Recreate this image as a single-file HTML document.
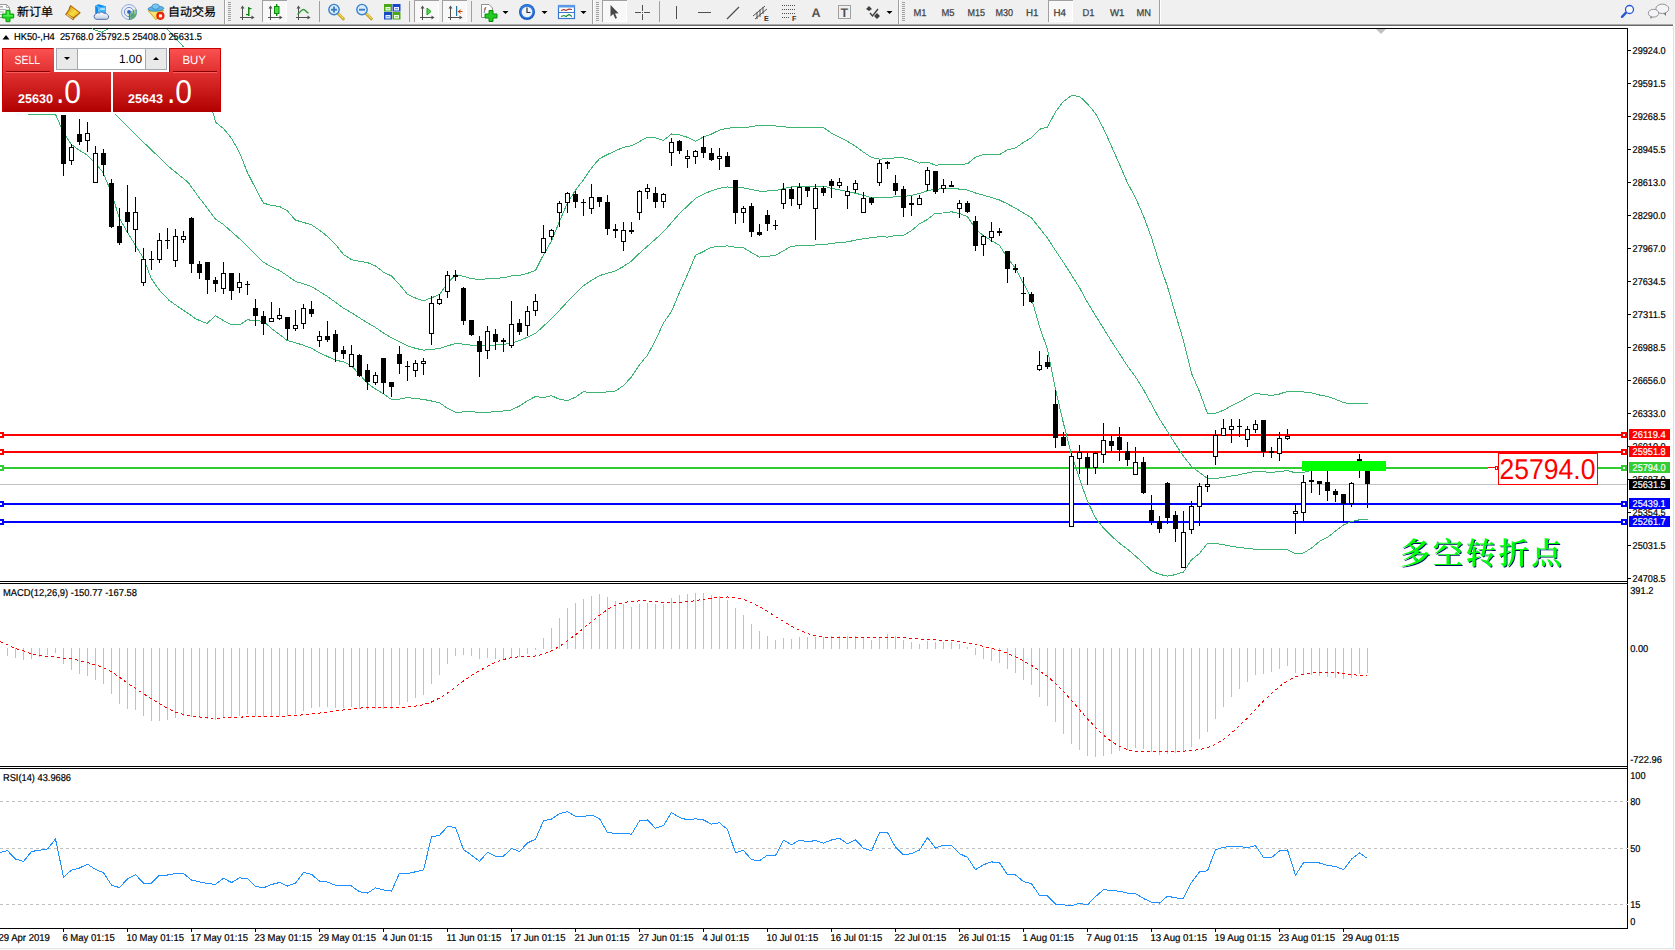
<!DOCTYPE html>
<html><head><meta charset="utf-8"><title>HK50-,H4</title>
<style>
html,body{margin:0;padding:0;background:#fff;overflow:hidden}
body{width:1675px;height:950px;position:relative;font-family:"Liberation Sans","Noto Sans CJK SC",sans-serif}
</style></head><body>
<svg width="1675" height="950" viewBox="0 0 1675 950" style="position:absolute;left:0;top:0;font-family:'Liberation Sans',sans-serif;text-rendering:geometricPrecision">
<defs><filter id="sh" x="-5%" y="-5%" width="110%" height="110%"><feDropShadow dx="1" dy="1" stdDeviation="0" flood-color="#001060" flood-opacity="1"/></filter></defs>
<rect x="0" y="0" width="1675" height="950" fill="#fff"/>
<rect x="0" y="28" width="1628" height="1" fill="#000"/>
<rect x="1627" y="28" width="1" height="901" fill="#000"/>
<rect x="0" y="581" width="1628" height="1" fill="#000"/>
<rect x="0" y="583" width="1628" height="1" fill="#000"/>
<rect x="0" y="766" width="1628" height="1" fill="#000"/>
<rect x="0" y="768" width="1628" height="1" fill="#000"/>
<rect x="0" y="928" width="1628" height="1" fill="#000"/>
<rect x="0" y="484" width="1627" height="1" fill="#c0c0c0"/>
<rect x="0" y="434" width="1627" height="2" fill="#ff0000"/>
<rect x="0" y="451" width="1627" height="2" fill="#ff0000"/>
<rect x="0" y="467" width="1627" height="2" fill="#32cd32"/>
<rect x="0" y="503" width="1627" height="2" fill="#0000ff"/>
<rect x="0" y="521" width="1627" height="2" fill="#0000ff"/>
<polyline points="166.9,28.9 182.7,45.8 213.5,114.3 215.5,122.3 223.5,128.5 231.5,138.4 239.5,152.5 247.5,172.7 255.5,188.2 263.5,203.2 271.5,205.3 279.5,206.5 287.5,211.0 295.5,220.2 303.5,222.4 311.5,224.9 319.5,230.1 327.5,236.5 335.5,244.4 343.5,254.5 351.5,259.6 359.5,261.3 367.5,262.6 375.5,265.9 383.5,272.2 391.5,276.0 399.5,284.6 407.5,294.3 415.5,298.0 423.5,300.9 431.5,297.8 439.5,294.5 447.5,283.5 455.5,274.7 463.5,276.3 471.5,278.6 479.5,279.5 487.5,278.8 495.5,278.3 503.5,277.8 511.5,275.9 519.5,275.3 527.5,273.4 535.5,270.5 543.5,254.7 551.5,241.1 559.5,221.3 567.5,202.9 575.5,190.2 583.5,179.8 591.5,168.0 599.5,158.6 607.5,154.5 615.5,150.8 623.5,147.3 631.5,145.6 639.5,141.6 647.5,137.1 655.5,137.9 663.5,140.5 671.5,133.9 679.5,134.9 687.5,137.3 695.5,141.3 703.5,136.9 711.5,134.0 719.5,130.1 727.5,128.1 735.5,127.8 743.5,127.8 751.5,126.6 759.5,125.3 767.5,125.6 775.5,126.0 783.5,126.5 791.5,127.9 799.5,127.7 807.5,127.8 815.5,127.5 823.5,127.5 831.5,133.2 839.5,137.3 847.5,141.4 855.5,146.3 863.5,152.2 871.5,157.5 879.5,159.2 887.5,158.5 895.5,157.9 903.5,157.9 911.5,159.9 919.5,163.1 927.5,162.1 935.5,165.1 943.5,164.8 951.5,164.7 959.5,164.6 967.5,163.7 975.5,157.1 983.5,154.6 991.5,154.2 999.5,154.7 1007.5,149.8 1015.5,147.9 1023.5,142.4 1031.5,137.7 1039.5,129.3 1047.5,127.1 1055.5,111.8 1063.5,101.4 1071.5,95.6 1079.5,96.3 1087.5,103.9 1095.5,113.5 1103.5,128.5 1111.5,146.4 1119.5,164.2 1127.5,182.9 1135.5,197.8 1143.5,216.0 1151.5,237.7 1159.5,263.7 1167.5,286.7 1175.5,314.2 1183.5,340.6 1191.5,373.2 1199.5,391.7 1207.5,413.7 1215.5,413.2 1223.5,410.3 1231.5,405.7 1239.5,401.8 1247.5,397.3 1255.5,393.3 1263.5,394.6 1271.5,395.4 1279.5,394.0 1287.5,391.4 1295.5,392.0 1303.5,391.9 1311.5,392.9 1319.5,395.0 1327.5,396.4 1335.5,399.3 1343.5,402.6 1351.5,403.9 1359.5,403.9 1367.5,403.9" fill="none" stroke="#3cb371" stroke-width="1" shape-rendering="crispEdges"/>
<polyline points="115.0,114.3 131.0,130.3 169.7,167.4 188.2,182.5 196.7,194.3 215.5,219.1 223.5,224.5 231.5,231.7 239.5,238.7 247.5,246.2 255.5,254.4 263.5,262.3 271.5,266.9 279.5,270.5 287.5,275.8 295.5,281.4 303.5,283.9 311.5,286.6 319.5,291.5 327.5,296.5 335.5,302.3 343.5,308.2 351.5,312.7 359.5,317.9 367.5,322.9 375.5,327.5 383.5,333.0 391.5,337.8 399.5,341.9 407.5,345.9 415.5,348.3 423.5,350.2 431.5,349.4 439.5,348.6 447.5,345.9 455.5,343.5 463.5,344.1 471.5,345.2 479.5,345.9 487.5,345.5 495.5,345.0 503.5,344.4 511.5,342.9 519.5,340.6 527.5,337.1 535.5,333.4 543.5,326.2 551.5,318.4 559.5,310.3 567.5,301.7 575.5,293.7 583.5,285.7 591.5,280.4 599.5,275.6 607.5,273.2 615.5,270.9 623.5,266.4 631.5,261.2 639.5,253.2 647.5,246.1 655.5,239.1 663.5,231.7 671.5,222.7 679.5,213.6 687.5,205.9 695.5,198.4 703.5,194.2 711.5,190.7 719.5,188.3 727.5,187.0 735.5,187.5 743.5,187.8 751.5,189.6 759.5,191.2 767.5,191.0 775.5,190.7 783.5,188.6 791.5,187.0 799.5,186.8 807.5,186.9 815.5,186.2 823.5,186.1 831.5,188.3 839.5,189.8 847.5,191.6 855.5,193.2 863.5,195.4 871.5,197.6 879.5,197.9 887.5,197.8 895.5,196.6 903.5,196.6 911.5,195.3 919.5,193.4 927.5,190.7 935.5,189.1 943.5,188.9 951.5,188.3 959.5,189.1 967.5,190.1 975.5,193.0 983.5,195.2 991.5,197.5 999.5,200.0 1007.5,203.9 1015.5,208.2 1023.5,213.0 1031.5,217.9 1039.5,228.0 1047.5,238.2 1055.5,250.5 1063.5,262.4 1071.5,275.0 1079.5,287.6 1087.5,302.5 1095.5,315.6 1103.5,328.4 1111.5,341.3 1119.5,353.6 1127.5,366.1 1135.5,376.9 1143.5,389.7 1151.5,404.2 1159.5,419.0 1167.5,431.4 1175.5,444.4 1183.5,456.3 1191.5,466.5 1199.5,472.6 1207.5,478.5 1215.5,478.4 1223.5,477.5 1231.5,476.0 1239.5,474.7 1247.5,472.8 1255.5,471.3 1263.5,471.9 1271.5,472.3 1279.5,471.7 1287.5,470.5 1295.5,472.9 1303.5,472.4 1311.5,470.5 1319.5,468.2 1327.5,466.9 1335.5,465.2 1343.5,463.8 1351.5,462.7 1359.5,461.8 1367.5,461.9" fill="none" stroke="#3cb371" stroke-width="1" shape-rendering="crispEdges"/>
<polyline points="27.8,114.3 55.6,114.5 61.0,127.0 65.7,136.2 71.0,144.0 79.0,150.2 87.0,154.8 95.0,162.7 103.0,172.4 111.0,191.8 119.3,217.9 127.0,231.4 135.2,245.0 143.6,258.5 151.2,278.3 158.7,289.3 168.9,300.2 177.3,306.1 187.4,312.9 195.8,318.8 206.8,323.5 215.5,315.8 223.5,320.6 231.5,325.0 239.5,324.9 247.5,319.8 255.5,320.6 263.5,321.4 271.5,328.4 279.5,334.5 287.5,340.7 295.5,342.7 303.5,345.3 311.5,348.3 319.5,352.9 327.5,356.5 335.5,360.2 343.5,361.8 351.5,365.8 359.5,374.5 367.5,383.2 375.5,389.1 383.5,393.8 391.5,399.6 399.5,399.2 407.5,397.6 415.5,398.6 423.5,399.4 431.5,401.0 439.5,402.7 447.5,408.4 455.5,412.4 463.5,411.9 471.5,411.7 479.5,412.4 487.5,412.3 495.5,411.7 503.5,411.0 511.5,409.9 519.5,406.0 527.5,400.8 535.5,396.4 543.5,397.7 551.5,395.6 559.5,399.4 567.5,400.5 575.5,397.2 583.5,391.6 591.5,392.8 599.5,392.5 607.5,391.9 615.5,391.0 623.5,385.5 631.5,376.9 639.5,364.8 647.5,355.1 655.5,340.3 663.5,322.9 671.5,311.4 679.5,292.4 687.5,274.5 695.5,255.4 703.5,251.5 711.5,247.3 719.5,246.5 727.5,245.9 735.5,247.2 743.5,247.8 751.5,252.6 759.5,257.1 767.5,256.3 775.5,255.4 783.5,250.7 791.5,246.1 799.5,245.9 807.5,246.0 815.5,244.9 823.5,244.8 831.5,243.4 839.5,242.4 847.5,241.9 855.5,240.1 863.5,238.7 871.5,237.7 879.5,236.7 887.5,237.1 895.5,235.4 903.5,235.3 911.5,230.6 919.5,223.8 927.5,219.4 935.5,213.1 943.5,213.0 951.5,211.8 959.5,213.5 967.5,216.6 975.5,228.9 983.5,235.8 991.5,240.7 999.5,245.3 1007.5,258.0 1015.5,268.5 1023.5,283.6 1031.5,298.2 1039.5,326.7 1047.5,349.3 1055.5,389.3 1063.5,423.5 1071.5,454.4 1079.5,478.9 1087.5,501.2 1095.5,517.8 1103.5,528.2 1111.5,536.2 1119.5,543.1 1127.5,549.3 1135.5,556.0 1143.5,563.4 1151.5,570.8 1159.5,574.3 1167.5,576.2 1175.5,574.6 1183.5,572.0 1191.5,559.8 1199.5,553.5 1207.5,543.3 1215.5,543.5 1223.5,544.7 1231.5,546.3 1239.5,547.6 1247.5,548.3 1255.5,549.4 1263.5,549.2 1271.5,549.1 1279.5,549.4 1287.5,549.6 1295.5,553.9 1303.5,553.0 1311.5,548.0 1319.5,541.4 1327.5,537.4 1335.5,531.1 1343.5,525.0 1351.5,521.5 1359.5,519.8 1367.5,519.8" fill="none" stroke="#3cb371" stroke-width="1" shape-rendering="crispEdges"/>
<polyline points="91.7,28.6 101.7,32.4 107.4,29.2" fill="none" stroke="#3cb371" stroke-width="1" shape-rendering="crispEdges"/>
<g shape-rendering="crispEdges">
<rect x="63" y="115" width="1" height="61" fill="#000"/>
<rect x="61" y="115" width="5" height="49" fill="#000"/>
<rect x="71" y="144" width="1" height="21" fill="#000"/>
<rect x="69" y="147" width="5" height="14" fill="#000"/>
<rect x="70" y="148" width="3" height="12" fill="#fff"/>
<rect x="79" y="119" width="1" height="26" fill="#000"/>
<rect x="77" y="134" width="5" height="8" fill="#000"/>
<rect x="87" y="122" width="1" height="30" fill="#000"/>
<rect x="85" y="133" width="5" height="8" fill="#000"/>
<rect x="86" y="134" width="3" height="6" fill="#fff"/>
<rect x="95" y="146" width="1" height="37" fill="#000"/>
<rect x="93" y="153" width="5" height="30" fill="#000"/>
<rect x="94" y="154" width="3" height="28" fill="#fff"/>
<rect x="103" y="149" width="1" height="27" fill="#000"/>
<rect x="101" y="153" width="5" height="12" fill="#000"/>
<rect x="111" y="179" width="1" height="49" fill="#000"/>
<rect x="109" y="183" width="5" height="44" fill="#000"/>
<rect x="119" y="208" width="1" height="37" fill="#000"/>
<rect x="117" y="226" width="5" height="17" fill="#000"/>
<rect x="127" y="185" width="1" height="48" fill="#000"/>
<rect x="125" y="212" width="5" height="10" fill="#000"/>
<rect x="135" y="197" width="1" height="55" fill="#000"/>
<rect x="133" y="212" width="5" height="18" fill="#000"/>
<rect x="134" y="213" width="3" height="16" fill="#fff"/>
<rect x="143" y="248" width="1" height="38" fill="#000"/>
<rect x="141" y="259" width="5" height="24" fill="#000"/>
<rect x="142" y="260" width="3" height="22" fill="#fff"/>
<rect x="151" y="251" width="1" height="19" fill="#000"/>
<rect x="149" y="259" width="5" height="1" fill="#000"/>
<rect x="159" y="233" width="1" height="30" fill="#000"/>
<rect x="157" y="240" width="5" height="20" fill="#000"/>
<rect x="158" y="241" width="3" height="18" fill="#fff"/>
<rect x="167" y="228" width="1" height="21" fill="#000"/>
<rect x="165" y="240" width="5" height="1" fill="#000"/>
<rect x="175" y="229" width="1" height="38" fill="#000"/>
<rect x="173" y="236" width="5" height="25" fill="#000"/>
<rect x="174" y="237" width="3" height="23" fill="#fff"/>
<rect x="183" y="231" width="1" height="12" fill="#000"/>
<rect x="181" y="236" width="5" height="4" fill="#000"/>
<rect x="182" y="237" width="3" height="2" fill="#fff"/>
<rect x="191" y="217" width="1" height="56" fill="#000"/>
<rect x="189" y="218" width="5" height="46" fill="#000"/>
<rect x="199" y="261" width="1" height="18" fill="#000"/>
<rect x="197" y="264" width="5" height="9" fill="#000"/>
<rect x="207" y="262" width="1" height="32" fill="#000"/>
<rect x="205" y="262" width="5" height="18" fill="#000"/>
<rect x="215" y="277" width="1" height="15" fill="#000"/>
<rect x="213" y="280" width="5" height="4" fill="#000"/>
<rect x="223" y="262" width="1" height="32" fill="#000"/>
<rect x="221" y="273" width="5" height="16" fill="#000"/>
<rect x="222" y="274" width="3" height="14" fill="#fff"/>
<rect x="231" y="273" width="1" height="27" fill="#000"/>
<rect x="229" y="273" width="5" height="18" fill="#000"/>
<rect x="239" y="273" width="1" height="20" fill="#000"/>
<rect x="237" y="282" width="5" height="6" fill="#000"/>
<rect x="238" y="283" width="3" height="4" fill="#fff"/>
<rect x="247" y="281" width="1" height="14" fill="#000"/>
<rect x="245" y="284" width="5" height="1" fill="#000"/>
<rect x="255" y="299" width="1" height="27" fill="#000"/>
<rect x="253" y="308" width="5" height="8" fill="#000"/>
<rect x="263" y="311" width="1" height="24" fill="#000"/>
<rect x="261" y="316" width="5" height="8" fill="#000"/>
<rect x="271" y="302" width="1" height="20" fill="#000"/>
<rect x="269" y="318" width="5" height="4" fill="#000"/>
<rect x="270" y="319" width="3" height="2" fill="#fff"/>
<rect x="279" y="308" width="1" height="12" fill="#000"/>
<rect x="277" y="315" width="5" height="4" fill="#000"/>
<rect x="278" y="316" width="3" height="2" fill="#fff"/>
<rect x="287" y="317" width="1" height="23" fill="#000"/>
<rect x="285" y="317" width="5" height="12" fill="#000"/>
<rect x="295" y="310" width="1" height="21" fill="#000"/>
<rect x="293" y="325" width="5" height="4" fill="#000"/>
<rect x="294" y="326" width="3" height="2" fill="#fff"/>
<rect x="303" y="304" width="1" height="25" fill="#000"/>
<rect x="301" y="308" width="5" height="16" fill="#000"/>
<rect x="302" y="309" width="3" height="14" fill="#fff"/>
<rect x="311" y="301" width="1" height="16" fill="#000"/>
<rect x="309" y="309" width="5" height="5" fill="#000"/>
<rect x="319" y="331" width="1" height="16" fill="#000"/>
<rect x="317" y="336" width="5" height="5" fill="#000"/>
<rect x="318" y="337" width="3" height="3" fill="#fff"/>
<rect x="327" y="321" width="1" height="21" fill="#000"/>
<rect x="325" y="336" width="5" height="4" fill="#000"/>
<rect x="335" y="330" width="1" height="32" fill="#000"/>
<rect x="333" y="334" width="5" height="18" fill="#000"/>
<rect x="343" y="346" width="1" height="13" fill="#000"/>
<rect x="341" y="350" width="5" height="4" fill="#000"/>
<rect x="351" y="345" width="1" height="22" fill="#000"/>
<rect x="349" y="354" width="5" height="13" fill="#000"/>
<rect x="350" y="355" width="3" height="11" fill="#fff"/>
<rect x="359" y="354" width="1" height="23" fill="#000"/>
<rect x="357" y="355" width="5" height="21" fill="#000"/>
<rect x="367" y="364" width="1" height="26" fill="#000"/>
<rect x="365" y="370" width="5" height="12" fill="#000"/>
<rect x="375" y="372" width="1" height="13" fill="#000"/>
<rect x="373" y="375" width="5" height="8" fill="#000"/>
<rect x="374" y="376" width="3" height="6" fill="#fff"/>
<rect x="383" y="358" width="1" height="36" fill="#000"/>
<rect x="381" y="358" width="5" height="25" fill="#000"/>
<rect x="391" y="382" width="1" height="15" fill="#000"/>
<rect x="389" y="382" width="5" height="5" fill="#000"/>
<rect x="399" y="346" width="1" height="28" fill="#000"/>
<rect x="397" y="354" width="5" height="10" fill="#000"/>
<rect x="407" y="361" width="1" height="20" fill="#000"/>
<rect x="405" y="366" width="5" height="1" fill="#000"/>
<rect x="415" y="360" width="1" height="17" fill="#000"/>
<rect x="413" y="363" width="5" height="8" fill="#000"/>
<rect x="414" y="364" width="3" height="6" fill="#fff"/>
<rect x="423" y="358" width="1" height="17" fill="#000"/>
<rect x="421" y="361" width="5" height="3" fill="#000"/>
<rect x="422" y="362" width="3" height="1" fill="#fff"/>
<rect x="431" y="296" width="1" height="49" fill="#000"/>
<rect x="429" y="303" width="5" height="31" fill="#000"/>
<rect x="430" y="304" width="3" height="29" fill="#fff"/>
<rect x="439" y="294" width="1" height="11" fill="#000"/>
<rect x="437" y="299" width="5" height="5" fill="#000"/>
<rect x="438" y="300" width="3" height="3" fill="#fff"/>
<rect x="447" y="271" width="1" height="27" fill="#000"/>
<rect x="445" y="275" width="5" height="17" fill="#000"/>
<rect x="446" y="276" width="3" height="15" fill="#fff"/>
<rect x="455" y="270" width="1" height="11" fill="#000"/>
<rect x="453" y="275" width="5" height="2" fill="#000"/>
<rect x="463" y="287" width="1" height="38" fill="#000"/>
<rect x="461" y="288" width="5" height="33" fill="#000"/>
<rect x="471" y="320" width="1" height="16" fill="#000"/>
<rect x="469" y="320" width="5" height="15" fill="#000"/>
<rect x="479" y="336" width="1" height="41" fill="#000"/>
<rect x="477" y="341" width="5" height="11" fill="#000"/>
<rect x="487" y="326" width="1" height="33" fill="#000"/>
<rect x="485" y="331" width="5" height="20" fill="#000"/>
<rect x="486" y="332" width="3" height="18" fill="#fff"/>
<rect x="495" y="329" width="1" height="21" fill="#000"/>
<rect x="493" y="334" width="5" height="8" fill="#000"/>
<rect x="503" y="338" width="1" height="14" fill="#000"/>
<rect x="501" y="340" width="5" height="2" fill="#000"/>
<rect x="511" y="301" width="1" height="47" fill="#000"/>
<rect x="509" y="324" width="5" height="22" fill="#000"/>
<rect x="510" y="325" width="3" height="20" fill="#fff"/>
<rect x="519" y="319" width="1" height="16" fill="#000"/>
<rect x="517" y="323" width="5" height="9" fill="#000"/>
<rect x="527" y="306" width="1" height="30" fill="#000"/>
<rect x="525" y="311" width="5" height="15" fill="#000"/>
<rect x="526" y="312" width="3" height="13" fill="#fff"/>
<rect x="535" y="294" width="1" height="22" fill="#000"/>
<rect x="533" y="301" width="5" height="10" fill="#000"/>
<rect x="534" y="302" width="3" height="8" fill="#fff"/>
<rect x="543" y="225" width="1" height="28" fill="#000"/>
<rect x="541" y="238" width="5" height="15" fill="#000"/>
<rect x="542" y="239" width="3" height="13" fill="#fff"/>
<rect x="551" y="229" width="1" height="11" fill="#000"/>
<rect x="549" y="230" width="5" height="7" fill="#000"/>
<rect x="550" y="231" width="3" height="5" fill="#fff"/>
<rect x="559" y="201" width="1" height="26" fill="#000"/>
<rect x="557" y="203" width="5" height="10" fill="#000"/>
<rect x="558" y="204" width="3" height="8" fill="#fff"/>
<rect x="567" y="192" width="1" height="21" fill="#000"/>
<rect x="565" y="193" width="5" height="10" fill="#000"/>
<rect x="566" y="194" width="3" height="8" fill="#fff"/>
<rect x="575" y="191" width="1" height="17" fill="#000"/>
<rect x="573" y="194" width="5" height="8" fill="#000"/>
<rect x="583" y="199" width="1" height="17" fill="#000"/>
<rect x="581" y="202" width="5" height="1" fill="#000"/>
<rect x="591" y="184" width="1" height="30" fill="#000"/>
<rect x="589" y="197" width="5" height="12" fill="#000"/>
<rect x="590" y="198" width="3" height="10" fill="#fff"/>
<rect x="599" y="197" width="1" height="10" fill="#000"/>
<rect x="597" y="197" width="5" height="5" fill="#000"/>
<rect x="607" y="195" width="1" height="40" fill="#000"/>
<rect x="605" y="202" width="5" height="27" fill="#000"/>
<rect x="615" y="224" width="1" height="14" fill="#000"/>
<rect x="613" y="229" width="5" height="2" fill="#000"/>
<rect x="623" y="222" width="1" height="29" fill="#000"/>
<rect x="621" y="230" width="5" height="12" fill="#000"/>
<rect x="622" y="231" width="3" height="10" fill="#fff"/>
<rect x="631" y="222" width="1" height="12" fill="#000"/>
<rect x="629" y="230" width="5" height="2" fill="#000"/>
<rect x="639" y="190" width="1" height="30" fill="#000"/>
<rect x="637" y="191" width="5" height="22" fill="#000"/>
<rect x="638" y="192" width="3" height="20" fill="#fff"/>
<rect x="647" y="184" width="1" height="15" fill="#000"/>
<rect x="645" y="188" width="5" height="4" fill="#000"/>
<rect x="646" y="189" width="3" height="2" fill="#fff"/>
<rect x="655" y="187" width="1" height="21" fill="#000"/>
<rect x="653" y="193" width="5" height="9" fill="#000"/>
<rect x="663" y="193" width="1" height="15" fill="#000"/>
<rect x="661" y="194" width="5" height="8" fill="#000"/>
<rect x="662" y="195" width="3" height="6" fill="#fff"/>
<rect x="671" y="138" width="1" height="28" fill="#000"/>
<rect x="669" y="142" width="5" height="11" fill="#000"/>
<rect x="670" y="143" width="3" height="9" fill="#fff"/>
<rect x="679" y="140" width="1" height="14" fill="#000"/>
<rect x="677" y="141" width="5" height="10" fill="#000"/>
<rect x="687" y="150" width="1" height="18" fill="#000"/>
<rect x="685" y="156" width="5" height="3" fill="#000"/>
<rect x="686" y="157" width="3" height="1" fill="#fff"/>
<rect x="695" y="150" width="1" height="14" fill="#000"/>
<rect x="693" y="151" width="5" height="6" fill="#000"/>
<rect x="694" y="152" width="3" height="4" fill="#fff"/>
<rect x="703" y="136" width="1" height="22" fill="#000"/>
<rect x="701" y="147" width="5" height="6" fill="#000"/>
<rect x="711" y="148" width="1" height="13" fill="#000"/>
<rect x="709" y="153" width="5" height="7" fill="#000"/>
<rect x="719" y="148" width="1" height="22" fill="#000"/>
<rect x="717" y="156" width="5" height="3" fill="#000"/>
<rect x="718" y="157" width="3" height="1" fill="#fff"/>
<rect x="727" y="152" width="1" height="15" fill="#000"/>
<rect x="725" y="156" width="5" height="11" fill="#000"/>
<rect x="735" y="180" width="1" height="44" fill="#000"/>
<rect x="733" y="180" width="5" height="33" fill="#000"/>
<rect x="743" y="206" width="1" height="17" fill="#000"/>
<rect x="741" y="208" width="5" height="5" fill="#000"/>
<rect x="742" y="209" width="3" height="3" fill="#fff"/>
<rect x="751" y="203" width="1" height="34" fill="#000"/>
<rect x="749" y="206" width="5" height="26" fill="#000"/>
<rect x="759" y="224" width="1" height="12" fill="#000"/>
<rect x="757" y="232" width="5" height="3" fill="#000"/>
<rect x="767" y="210" width="1" height="21" fill="#000"/>
<rect x="765" y="215" width="5" height="9" fill="#000"/>
<rect x="775" y="220" width="1" height="10" fill="#000"/>
<rect x="773" y="225" width="5" height="1" fill="#000"/>
<rect x="783" y="183" width="1" height="26" fill="#000"/>
<rect x="781" y="189" width="5" height="15" fill="#000"/>
<rect x="782" y="190" width="3" height="13" fill="#fff"/>
<rect x="791" y="187" width="1" height="19" fill="#000"/>
<rect x="789" y="189" width="5" height="10" fill="#000"/>
<rect x="799" y="183" width="1" height="26" fill="#000"/>
<rect x="797" y="187" width="5" height="18" fill="#000"/>
<rect x="798" y="188" width="3" height="16" fill="#fff"/>
<rect x="807" y="187" width="1" height="10" fill="#000"/>
<rect x="805" y="187" width="5" height="4" fill="#000"/>
<rect x="815" y="184" width="1" height="56" fill="#000"/>
<rect x="813" y="188" width="5" height="21" fill="#000"/>
<rect x="814" y="189" width="3" height="19" fill="#fff"/>
<rect x="823" y="186" width="1" height="10" fill="#000"/>
<rect x="821" y="188" width="5" height="5" fill="#000"/>
<rect x="831" y="179" width="1" height="19" fill="#000"/>
<rect x="829" y="181" width="5" height="5" fill="#000"/>
<rect x="839" y="178" width="1" height="10" fill="#000"/>
<rect x="837" y="182" width="5" height="4" fill="#000"/>
<rect x="838" y="183" width="3" height="2" fill="#fff"/>
<rect x="847" y="186" width="1" height="23" fill="#000"/>
<rect x="845" y="191" width="5" height="5" fill="#000"/>
<rect x="846" y="192" width="3" height="3" fill="#fff"/>
<rect x="855" y="180" width="1" height="13" fill="#000"/>
<rect x="853" y="183" width="5" height="7" fill="#000"/>
<rect x="854" y="184" width="3" height="5" fill="#fff"/>
<rect x="863" y="192" width="1" height="21" fill="#000"/>
<rect x="861" y="198" width="5" height="15" fill="#000"/>
<rect x="862" y="199" width="3" height="13" fill="#fff"/>
<rect x="871" y="197" width="1" height="8" fill="#000"/>
<rect x="869" y="198" width="5" height="5" fill="#000"/>
<rect x="879" y="160" width="1" height="26" fill="#000"/>
<rect x="877" y="163" width="5" height="20" fill="#000"/>
<rect x="878" y="164" width="3" height="18" fill="#fff"/>
<rect x="887" y="161" width="1" height="8" fill="#000"/>
<rect x="885" y="162" width="5" height="2" fill="#000"/>
<rect x="895" y="175" width="1" height="20" fill="#000"/>
<rect x="893" y="183" width="5" height="8" fill="#000"/>
<rect x="903" y="186" width="1" height="31" fill="#000"/>
<rect x="901" y="189" width="5" height="19" fill="#000"/>
<rect x="911" y="196" width="1" height="20" fill="#000"/>
<rect x="909" y="203" width="5" height="2" fill="#000"/>
<rect x="919" y="195" width="1" height="10" fill="#000"/>
<rect x="917" y="198" width="5" height="7" fill="#000"/>
<rect x="918" y="199" width="3" height="5" fill="#fff"/>
<rect x="927" y="167" width="1" height="24" fill="#000"/>
<rect x="925" y="170" width="5" height="15" fill="#000"/>
<rect x="926" y="171" width="3" height="13" fill="#fff"/>
<rect x="935" y="171" width="1" height="23" fill="#000"/>
<rect x="933" y="171" width="5" height="21" fill="#000"/>
<rect x="943" y="179" width="1" height="14" fill="#000"/>
<rect x="941" y="185" width="5" height="4" fill="#000"/>
<rect x="942" y="186" width="3" height="2" fill="#fff"/>
<rect x="951" y="181" width="1" height="6" fill="#000"/>
<rect x="949" y="185" width="5" height="2" fill="#000"/>
<rect x="959" y="200" width="1" height="18" fill="#000"/>
<rect x="957" y="203" width="5" height="6" fill="#000"/>
<rect x="958" y="204" width="3" height="4" fill="#fff"/>
<rect x="967" y="201" width="1" height="12" fill="#000"/>
<rect x="965" y="203" width="5" height="9" fill="#000"/>
<rect x="975" y="216" width="1" height="35" fill="#000"/>
<rect x="973" y="221" width="5" height="25" fill="#000"/>
<rect x="983" y="235" width="1" height="21" fill="#000"/>
<rect x="981" y="236" width="5" height="9" fill="#000"/>
<rect x="982" y="237" width="3" height="7" fill="#fff"/>
<rect x="991" y="222" width="1" height="20" fill="#000"/>
<rect x="989" y="231" width="5" height="7" fill="#000"/>
<rect x="990" y="232" width="3" height="5" fill="#fff"/>
<rect x="999" y="228" width="1" height="8" fill="#000"/>
<rect x="997" y="231" width="5" height="2" fill="#000"/>
<rect x="1007" y="251" width="1" height="32" fill="#000"/>
<rect x="1005" y="251" width="5" height="18" fill="#000"/>
<rect x="1015" y="264" width="1" height="9" fill="#000"/>
<rect x="1013" y="268" width="5" height="2" fill="#000"/>
<rect x="1023" y="277" width="1" height="29" fill="#000"/>
<rect x="1021" y="293" width="5" height="1" fill="#000"/>
<rect x="1031" y="292" width="1" height="11" fill="#000"/>
<rect x="1029" y="294" width="5" height="8" fill="#000"/>
<rect x="1039" y="351" width="1" height="20" fill="#000"/>
<rect x="1037" y="365" width="5" height="5" fill="#000"/>
<rect x="1038" y="366" width="3" height="3" fill="#fff"/>
<rect x="1047" y="355" width="1" height="14" fill="#000"/>
<rect x="1045" y="362" width="5" height="5" fill="#000"/>
<rect x="1055" y="390" width="1" height="58" fill="#000"/>
<rect x="1053" y="404" width="5" height="34" fill="#000"/>
<rect x="1063" y="432" width="1" height="14" fill="#000"/>
<rect x="1061" y="437" width="5" height="9" fill="#000"/>
<rect x="1071" y="453" width="1" height="74" fill="#000"/>
<rect x="1069" y="456" width="5" height="71" fill="#000"/>
<rect x="1070" y="457" width="3" height="69" fill="#fff"/>
<rect x="1079" y="445" width="1" height="29" fill="#000"/>
<rect x="1077" y="452" width="5" height="7" fill="#000"/>
<rect x="1078" y="453" width="3" height="5" fill="#fff"/>
<rect x="1087" y="453" width="1" height="32" fill="#000"/>
<rect x="1085" y="457" width="5" height="11" fill="#000"/>
<rect x="1095" y="452" width="1" height="22" fill="#000"/>
<rect x="1093" y="453" width="5" height="15" fill="#000"/>
<rect x="1094" y="454" width="3" height="13" fill="#fff"/>
<rect x="1103" y="423" width="1" height="40" fill="#000"/>
<rect x="1101" y="440" width="5" height="15" fill="#000"/>
<rect x="1102" y="441" width="3" height="13" fill="#fff"/>
<rect x="1111" y="436" width="1" height="15" fill="#000"/>
<rect x="1109" y="441" width="5" height="5" fill="#000"/>
<rect x="1119" y="427" width="1" height="34" fill="#000"/>
<rect x="1117" y="437" width="5" height="13" fill="#000"/>
<rect x="1127" y="442" width="1" height="24" fill="#000"/>
<rect x="1125" y="451" width="5" height="9" fill="#000"/>
<rect x="1135" y="447" width="1" height="28" fill="#000"/>
<rect x="1133" y="462" width="5" height="13" fill="#000"/>
<rect x="1134" y="463" width="3" height="11" fill="#fff"/>
<rect x="1143" y="457" width="1" height="37" fill="#000"/>
<rect x="1141" y="462" width="5" height="31" fill="#000"/>
<rect x="1151" y="495" width="1" height="30" fill="#000"/>
<rect x="1149" y="510" width="5" height="11" fill="#000"/>
<rect x="1159" y="516" width="1" height="17" fill="#000"/>
<rect x="1157" y="521" width="5" height="8" fill="#000"/>
<rect x="1167" y="482" width="1" height="42" fill="#000"/>
<rect x="1165" y="483" width="5" height="35" fill="#000"/>
<rect x="1175" y="511" width="1" height="31" fill="#000"/>
<rect x="1173" y="515" width="5" height="14" fill="#000"/>
<rect x="1183" y="511" width="1" height="57" fill="#000"/>
<rect x="1181" y="532" width="5" height="36" fill="#000"/>
<rect x="1182" y="533" width="3" height="34" fill="#fff"/>
<rect x="1191" y="501" width="1" height="33" fill="#000"/>
<rect x="1189" y="506" width="5" height="24" fill="#000"/>
<rect x="1190" y="507" width="3" height="22" fill="#fff"/>
<rect x="1199" y="483" width="1" height="43" fill="#000"/>
<rect x="1197" y="486" width="5" height="21" fill="#000"/>
<rect x="1198" y="487" width="3" height="19" fill="#fff"/>
<rect x="1207" y="475" width="1" height="17" fill="#000"/>
<rect x="1205" y="484" width="5" height="3" fill="#000"/>
<rect x="1206" y="485" width="3" height="1" fill="#fff"/>
<rect x="1215" y="430" width="1" height="35" fill="#000"/>
<rect x="1213" y="435" width="5" height="22" fill="#000"/>
<rect x="1214" y="436" width="3" height="20" fill="#fff"/>
<rect x="1223" y="419" width="1" height="17" fill="#000"/>
<rect x="1221" y="428" width="5" height="8" fill="#000"/>
<rect x="1222" y="429" width="3" height="6" fill="#fff"/>
<rect x="1231" y="419" width="1" height="24" fill="#000"/>
<rect x="1229" y="426" width="5" height="4" fill="#000"/>
<rect x="1230" y="427" width="3" height="2" fill="#fff"/>
<rect x="1239" y="419" width="1" height="18" fill="#000"/>
<rect x="1237" y="426" width="5" height="1" fill="#000"/>
<rect x="1247" y="426" width="1" height="21" fill="#000"/>
<rect x="1245" y="429" width="5" height="11" fill="#000"/>
<rect x="1246" y="430" width="3" height="9" fill="#fff"/>
<rect x="1255" y="420" width="1" height="13" fill="#000"/>
<rect x="1253" y="424" width="5" height="6" fill="#000"/>
<rect x="1254" y="425" width="3" height="4" fill="#fff"/>
<rect x="1263" y="420" width="1" height="37" fill="#000"/>
<rect x="1261" y="420" width="5" height="32" fill="#000"/>
<rect x="1271" y="447" width="1" height="11" fill="#000"/>
<rect x="1269" y="451" width="5" height="2" fill="#000"/>
<rect x="1279" y="432" width="1" height="29" fill="#000"/>
<rect x="1277" y="438" width="5" height="16" fill="#000"/>
<rect x="1278" y="439" width="3" height="14" fill="#fff"/>
<rect x="1287" y="429" width="1" height="11" fill="#000"/>
<rect x="1285" y="436" width="5" height="3" fill="#000"/>
<rect x="1286" y="437" width="3" height="1" fill="#fff"/>
<rect x="1295" y="503" width="1" height="31" fill="#000"/>
<rect x="1293" y="511" width="5" height="3" fill="#000"/>
<rect x="1294" y="512" width="3" height="1" fill="#fff"/>
<rect x="1303" y="475" width="1" height="46" fill="#000"/>
<rect x="1301" y="482" width="5" height="31" fill="#000"/>
<rect x="1302" y="483" width="3" height="29" fill="#fff"/>
<rect x="1311" y="466" width="1" height="27" fill="#000"/>
<rect x="1309" y="480" width="5" height="2" fill="#000"/>
<rect x="1319" y="481" width="1" height="14" fill="#000"/>
<rect x="1317" y="481" width="5" height="3" fill="#000"/>
<rect x="1327" y="467" width="1" height="34" fill="#000"/>
<rect x="1325" y="482" width="5" height="9" fill="#000"/>
<rect x="1335" y="489" width="1" height="13" fill="#000"/>
<rect x="1333" y="491" width="5" height="4" fill="#000"/>
<rect x="1343" y="494" width="1" height="29" fill="#000"/>
<rect x="1341" y="494" width="5" height="10" fill="#000"/>
<rect x="1351" y="482" width="1" height="25" fill="#000"/>
<rect x="1349" y="483" width="5" height="21" fill="#000"/>
<rect x="1350" y="484" width="3" height="19" fill="#fff"/>
<rect x="1359" y="454" width="1" height="24" fill="#000"/>
<rect x="1357" y="459" width="5" height="11" fill="#000"/>
<rect x="1367" y="468" width="1" height="40" fill="#000"/>
<rect x="1365" y="470" width="5" height="14" fill="#000"/>
</g>
<rect x="1302" y="461" width="84" height="10" fill="#00ff00"/>
<rect x="-2" y="432" width="6" height="6" fill="#ff0000"/>
<rect x="0" y="434" width="2" height="2" fill="#fff"/>
<rect x="1621" y="432" width="6" height="6" fill="#ff0000"/>
<rect x="1623" y="434" width="2" height="2" fill="#fff"/>
<rect x="-2" y="449" width="6" height="6" fill="#ff0000"/>
<rect x="0" y="451" width="2" height="2" fill="#fff"/>
<rect x="1621" y="449" width="6" height="6" fill="#ff0000"/>
<rect x="1623" y="451" width="2" height="2" fill="#fff"/>
<rect x="-2" y="465" width="6" height="6" fill="#32cd32"/>
<rect x="0" y="467" width="2" height="2" fill="#fff"/>
<rect x="1621" y="465" width="6" height="6" fill="#32cd32"/>
<rect x="1623" y="467" width="2" height="2" fill="#fff"/>
<rect x="-2" y="501" width="6" height="6" fill="#0000ff"/>
<rect x="0" y="503" width="2" height="2" fill="#fff"/>
<rect x="1621" y="501" width="6" height="6" fill="#0000ff"/>
<rect x="1623" y="503" width="2" height="2" fill="#fff"/>
<rect x="-2" y="519" width="6" height="6" fill="#0000ff"/>
<rect x="0" y="521" width="2" height="2" fill="#fff"/>
<rect x="1621" y="519" width="6" height="6" fill="#0000ff"/>
<rect x="1623" y="521" width="2" height="2" fill="#fff"/>
<rect x="1628" y="50" width="3" height="1" fill="#000"/>
<text x="1632.6" y="54" font-size="10.0" fill="#000" textLength="33.0" lengthAdjust="spacingAndGlyphs" text-anchor="start" stroke="#000" stroke-width="0.2">29924.0</text>
<rect x="1628" y="83" width="3" height="1" fill="#000"/>
<text x="1632.6" y="87" font-size="10.0" fill="#000" textLength="33.0" lengthAdjust="spacingAndGlyphs" text-anchor="start" stroke="#000" stroke-width="0.2">29591.5</text>
<rect x="1628" y="116" width="3" height="1" fill="#000"/>
<text x="1632.6" y="120" font-size="10.0" fill="#000" textLength="33.0" lengthAdjust="spacingAndGlyphs" text-anchor="start" stroke="#000" stroke-width="0.2">29268.5</text>
<rect x="1628" y="149" width="3" height="1" fill="#000"/>
<text x="1632.6" y="153" font-size="10.0" fill="#000" textLength="33.0" lengthAdjust="spacingAndGlyphs" text-anchor="start" stroke="#000" stroke-width="0.2">28945.5</text>
<rect x="1628" y="182" width="3" height="1" fill="#000"/>
<text x="1632.6" y="186" font-size="10.0" fill="#000" textLength="33.0" lengthAdjust="spacingAndGlyphs" text-anchor="start" stroke="#000" stroke-width="0.2">28613.0</text>
<rect x="1628" y="215" width="3" height="1" fill="#000"/>
<text x="1632.6" y="219" font-size="10.0" fill="#000" textLength="33.0" lengthAdjust="spacingAndGlyphs" text-anchor="start" stroke="#000" stroke-width="0.2">28290.0</text>
<rect x="1628" y="248" width="3" height="1" fill="#000"/>
<text x="1632.6" y="252" font-size="10.0" fill="#000" textLength="33.0" lengthAdjust="spacingAndGlyphs" text-anchor="start" stroke="#000" stroke-width="0.2">27967.0</text>
<rect x="1628" y="281" width="3" height="1" fill="#000"/>
<text x="1632.6" y="285" font-size="10.0" fill="#000" textLength="33.0" lengthAdjust="spacingAndGlyphs" text-anchor="start" stroke="#000" stroke-width="0.2">27634.5</text>
<rect x="1628" y="314" width="3" height="1" fill="#000"/>
<text x="1632.6" y="318" font-size="10.0" fill="#000" textLength="33.0" lengthAdjust="spacingAndGlyphs" text-anchor="start" stroke="#000" stroke-width="0.2">27311.5</text>
<rect x="1628" y="347" width="3" height="1" fill="#000"/>
<text x="1632.6" y="351" font-size="10.0" fill="#000" textLength="33.0" lengthAdjust="spacingAndGlyphs" text-anchor="start" stroke="#000" stroke-width="0.2">26988.5</text>
<rect x="1628" y="380" width="3" height="1" fill="#000"/>
<text x="1632.6" y="384" font-size="10.0" fill="#000" textLength="33.0" lengthAdjust="spacingAndGlyphs" text-anchor="start" stroke="#000" stroke-width="0.2">26656.0</text>
<rect x="1628" y="413" width="3" height="1" fill="#000"/>
<text x="1632.6" y="417" font-size="10.0" fill="#000" textLength="33.0" lengthAdjust="spacingAndGlyphs" text-anchor="start" stroke="#000" stroke-width="0.2">26333.0</text>
<rect x="1628" y="446" width="3" height="1" fill="#000"/>
<text x="1632.6" y="450" font-size="10.0" fill="#000" textLength="33.0" lengthAdjust="spacingAndGlyphs" text-anchor="start" stroke="#000" stroke-width="0.2">26010.0</text>
<rect x="1628" y="479" width="3" height="1" fill="#000"/>
<text x="1632.6" y="483" font-size="10.0" fill="#000" textLength="33.0" lengthAdjust="spacingAndGlyphs" text-anchor="start" stroke="#000" stroke-width="0.2">25687.0</text>
<rect x="1628" y="512" width="3" height="1" fill="#000"/>
<text x="1632.6" y="516" font-size="10.0" fill="#000" textLength="33.0" lengthAdjust="spacingAndGlyphs" text-anchor="start" stroke="#000" stroke-width="0.2">25354.5</text>
<rect x="1628" y="545" width="3" height="1" fill="#000"/>
<text x="1632.6" y="549" font-size="10.0" fill="#000" textLength="33.0" lengthAdjust="spacingAndGlyphs" text-anchor="start" stroke="#000" stroke-width="0.2">25031.5</text>
<rect x="1628" y="578" width="3" height="1" fill="#000"/>
<text x="1632.6" y="582" font-size="10.0" fill="#000" textLength="33.0" lengthAdjust="spacingAndGlyphs" text-anchor="start" stroke="#000" stroke-width="0.2">24708.5</text>
<rect x="1629" y="479" width="41" height="11" fill="#000"/>
<text x="1632.6" y="488" font-size="10.0" fill="#fff" textLength="33.0" lengthAdjust="spacingAndGlyphs" text-anchor="start" stroke="#fff" stroke-width="0.2">25631.5</text>
<rect x="1629" y="429" width="41" height="11" fill="#ff0000"/>
<text x="1632.6" y="438" font-size="10.0" fill="#fff" textLength="33.0" lengthAdjust="spacingAndGlyphs" text-anchor="start" stroke="#fff" stroke-width="0.2">26119.4</text>
<rect x="1629" y="446" width="41" height="11" fill="#ff0000"/>
<text x="1632.6" y="455" font-size="10.0" fill="#fff" textLength="33.0" lengthAdjust="spacingAndGlyphs" text-anchor="start" stroke="#fff" stroke-width="0.2">25951.8</text>
<rect x="1629" y="462" width="41" height="11" fill="#32cd32"/>
<text x="1632.6" y="471" font-size="10.0" fill="#fff" textLength="33.0" lengthAdjust="spacingAndGlyphs" text-anchor="start" stroke="#fff" stroke-width="0.2">25794.0</text>
<rect x="1629" y="498" width="41" height="11" fill="#0000ff"/>
<text x="1632.6" y="507" font-size="10.0" fill="#fff" textLength="33.0" lengthAdjust="spacingAndGlyphs" text-anchor="start" stroke="#fff" stroke-width="0.2">25439.1</text>
<rect x="1629" y="516" width="41" height="11" fill="#0000ff"/>
<text x="1632.6" y="525" font-size="10.0" fill="#fff" textLength="33.0" lengthAdjust="spacingAndGlyphs" text-anchor="start" stroke="#fff" stroke-width="0.2">25261.7</text>
<rect x="1488" y="467" width="10" height="2" fill="#fff"/>
<rect x="1488" y="467" width="7" height="1" fill="#ff0000"/>
<rect x="1495.5" y="466.5" width="2" height="3" fill="#fff" stroke="#f00"/>
<rect x="1498.5" y="453.5" width="99" height="31" fill="#fff" stroke="#f00"/>
<text x="1499.5" y="479" font-size="28.6" fill="#ff0000" textLength="96.0" lengthAdjust="spacingAndGlyphs" text-anchor="start">25794.0</text>
<text x="1400" y="563.5" font-size="30.5" letter-spacing="2.3" font-weight="600" fill="#00ff00" style="font-family:'Liberation Serif','Noto Serif CJK SC',serif;paint-order:stroke" stroke="none" filter="url(#sh)">多空转折点</text>
<path d="M2.5 39.5 L6 35 L9.5 39.5Z" fill="#000"/>
<text x="14" y="40" font-size="10.0" fill="#000" textLength="188.0" lengthAdjust="spacingAndGlyphs" text-anchor="start" stroke="#000" stroke-width="0.2">HK50-,H4&#160;&#160;25768.0 25792.5 25408.0 25631.5</text>
<path d="M1376 29 L1386 29 L1381 34Z" fill="#c0c0c0"/>
<text x="3" y="596" font-size="10.0" fill="#000" textLength="134.0" lengthAdjust="spacingAndGlyphs" text-anchor="start" stroke="#000" stroke-width="0.2">MACD(12,26,9) -150.77 -167.58</text>
<g shape-rendering="crispEdges">
<rect x="7" y="648" width="1" height="8" fill="#c0c0c0"/>
<rect x="15" y="648" width="1" height="10" fill="#c0c0c0"/>
<rect x="23" y="648" width="1" height="12" fill="#c0c0c0"/>
<rect x="31" y="648" width="1" height="11" fill="#c0c0c0"/>
<rect x="39" y="648" width="1" height="9" fill="#c0c0c0"/>
<rect x="47" y="648" width="1" height="7" fill="#c0c0c0"/>
<rect x="55" y="648" width="1" height="5" fill="#c0c0c0"/>
<rect x="63" y="648" width="1" height="16" fill="#c0c0c0"/>
<rect x="71" y="648" width="1" height="22" fill="#c0c0c0"/>
<rect x="79" y="648" width="1" height="26" fill="#c0c0c0"/>
<rect x="87" y="648" width="1" height="28" fill="#c0c0c0"/>
<rect x="95" y="648" width="1" height="32" fill="#c0c0c0"/>
<rect x="103" y="648" width="1" height="36" fill="#c0c0c0"/>
<rect x="111" y="648" width="1" height="46" fill="#c0c0c0"/>
<rect x="119" y="648" width="1" height="56" fill="#c0c0c0"/>
<rect x="127" y="648" width="1" height="61" fill="#c0c0c0"/>
<rect x="135" y="648" width="1" height="62" fill="#c0c0c0"/>
<rect x="143" y="648" width="1" height="68" fill="#c0c0c0"/>
<rect x="151" y="648" width="1" height="73" fill="#c0c0c0"/>
<rect x="159" y="648" width="1" height="73" fill="#c0c0c0"/>
<rect x="167" y="648" width="1" height="72" fill="#c0c0c0"/>
<rect x="175" y="648" width="1" height="70" fill="#c0c0c0"/>
<rect x="183" y="648" width="1" height="68" fill="#c0c0c0"/>
<rect x="191" y="648" width="1" height="69" fill="#c0c0c0"/>
<rect x="199" y="648" width="1" height="70" fill="#c0c0c0"/>
<rect x="207" y="648" width="1" height="71" fill="#c0c0c0"/>
<rect x="215" y="648" width="1" height="72" fill="#c0c0c0"/>
<rect x="223" y="648" width="1" height="70" fill="#c0c0c0"/>
<rect x="231" y="648" width="1" height="70" fill="#c0c0c0"/>
<rect x="239" y="648" width="1" height="68" fill="#c0c0c0"/>
<rect x="247" y="648" width="1" height="66" fill="#c0c0c0"/>
<rect x="255" y="648" width="1" height="68" fill="#c0c0c0"/>
<rect x="263" y="648" width="1" height="69" fill="#c0c0c0"/>
<rect x="271" y="648" width="1" height="69" fill="#c0c0c0"/>
<rect x="279" y="648" width="1" height="68" fill="#c0c0c0"/>
<rect x="287" y="648" width="1" height="68" fill="#c0c0c0"/>
<rect x="295" y="648" width="1" height="66" fill="#c0c0c0"/>
<rect x="303" y="648" width="1" height="63" fill="#c0c0c0"/>
<rect x="311" y="648" width="1" height="60" fill="#c0c0c0"/>
<rect x="319" y="648" width="1" height="59" fill="#c0c0c0"/>
<rect x="327" y="648" width="1" height="59" fill="#c0c0c0"/>
<rect x="335" y="648" width="1" height="60" fill="#c0c0c0"/>
<rect x="343" y="648" width="1" height="60" fill="#c0c0c0"/>
<rect x="351" y="648" width="1" height="59" fill="#c0c0c0"/>
<rect x="359" y="648" width="1" height="61" fill="#c0c0c0"/>
<rect x="367" y="648" width="1" height="62" fill="#c0c0c0"/>
<rect x="375" y="648" width="1" height="61" fill="#c0c0c0"/>
<rect x="383" y="648" width="1" height="61" fill="#c0c0c0"/>
<rect x="391" y="648" width="1" height="61" fill="#c0c0c0"/>
<rect x="399" y="648" width="1" height="57" fill="#c0c0c0"/>
<rect x="407" y="648" width="1" height="54" fill="#c0c0c0"/>
<rect x="415" y="648" width="1" height="50" fill="#c0c0c0"/>
<rect x="423" y="648" width="1" height="47" fill="#c0c0c0"/>
<rect x="431" y="648" width="1" height="36" fill="#c0c0c0"/>
<rect x="439" y="648" width="1" height="27" fill="#c0c0c0"/>
<rect x="447" y="648" width="1" height="16" fill="#c0c0c0"/>
<rect x="455" y="648" width="1" height="8" fill="#c0c0c0"/>
<rect x="463" y="648" width="1" height="7" fill="#c0c0c0"/>
<rect x="471" y="648" width="1" height="8" fill="#c0c0c0"/>
<rect x="479" y="648" width="1" height="11" fill="#c0c0c0"/>
<rect x="487" y="648" width="1" height="10" fill="#c0c0c0"/>
<rect x="495" y="648" width="1" height="11" fill="#c0c0c0"/>
<rect x="503" y="648" width="1" height="11" fill="#c0c0c0"/>
<rect x="511" y="648" width="1" height="9" fill="#c0c0c0"/>
<rect x="519" y="648" width="1" height="9" fill="#c0c0c0"/>
<rect x="527" y="648" width="1" height="6" fill="#c0c0c0"/>
<rect x="535" y="648" width="1" height="2" fill="#c0c0c0"/>
<rect x="543" y="638" width="1" height="11" fill="#c0c0c0"/>
<rect x="551" y="628" width="1" height="21" fill="#c0c0c0"/>
<rect x="559" y="618" width="1" height="31" fill="#c0c0c0"/>
<rect x="567" y="608" width="1" height="41" fill="#c0c0c0"/>
<rect x="575" y="603" width="1" height="46" fill="#c0c0c0"/>
<rect x="583" y="599" width="1" height="50" fill="#c0c0c0"/>
<rect x="591" y="596" width="1" height="53" fill="#c0c0c0"/>
<rect x="599" y="594" width="1" height="55" fill="#c0c0c0"/>
<rect x="607" y="597" width="1" height="52" fill="#c0c0c0"/>
<rect x="615" y="601" width="1" height="48" fill="#c0c0c0"/>
<rect x="623" y="604" width="1" height="45" fill="#c0c0c0"/>
<rect x="631" y="607" width="1" height="42" fill="#c0c0c0"/>
<rect x="639" y="604" width="1" height="45" fill="#c0c0c0"/>
<rect x="647" y="603" width="1" height="46" fill="#c0c0c0"/>
<rect x="655" y="604" width="1" height="45" fill="#c0c0c0"/>
<rect x="663" y="604" width="1" height="45" fill="#c0c0c0"/>
<rect x="671" y="598" width="1" height="51" fill="#c0c0c0"/>
<rect x="679" y="595" width="1" height="54" fill="#c0c0c0"/>
<rect x="687" y="594" width="1" height="55" fill="#c0c0c0"/>
<rect x="695" y="593" width="1" height="56" fill="#c0c0c0"/>
<rect x="703" y="593" width="1" height="56" fill="#c0c0c0"/>
<rect x="711" y="595" width="1" height="54" fill="#c0c0c0"/>
<rect x="719" y="596" width="1" height="53" fill="#c0c0c0"/>
<rect x="727" y="600" width="1" height="49" fill="#c0c0c0"/>
<rect x="735" y="608" width="1" height="41" fill="#c0c0c0"/>
<rect x="743" y="615" width="1" height="34" fill="#c0c0c0"/>
<rect x="751" y="624" width="1" height="25" fill="#c0c0c0"/>
<rect x="759" y="631" width="1" height="18" fill="#c0c0c0"/>
<rect x="767" y="636" width="1" height="13" fill="#c0c0c0"/>
<rect x="775" y="640" width="1" height="9" fill="#c0c0c0"/>
<rect x="783" y="638" width="1" height="11" fill="#c0c0c0"/>
<rect x="791" y="639" width="1" height="10" fill="#c0c0c0"/>
<rect x="799" y="637" width="1" height="12" fill="#c0c0c0"/>
<rect x="807" y="637" width="1" height="12" fill="#c0c0c0"/>
<rect x="815" y="637" width="1" height="12" fill="#c0c0c0"/>
<rect x="823" y="637" width="1" height="12" fill="#c0c0c0"/>
<rect x="831" y="636" width="1" height="13" fill="#c0c0c0"/>
<rect x="839" y="636" width="1" height="13" fill="#c0c0c0"/>
<rect x="847" y="636" width="1" height="13" fill="#c0c0c0"/>
<rect x="855" y="636" width="1" height="13" fill="#c0c0c0"/>
<rect x="863" y="638" width="1" height="11" fill="#c0c0c0"/>
<rect x="871" y="640" width="1" height="9" fill="#c0c0c0"/>
<rect x="879" y="637" width="1" height="12" fill="#c0c0c0"/>
<rect x="887" y="634" width="1" height="15" fill="#c0c0c0"/>
<rect x="895" y="636" width="1" height="13" fill="#c0c0c0"/>
<rect x="903" y="640" width="1" height="9" fill="#c0c0c0"/>
<rect x="911" y="642" width="1" height="7" fill="#c0c0c0"/>
<rect x="919" y="644" width="1" height="5" fill="#c0c0c0"/>
<rect x="927" y="641" width="1" height="8" fill="#c0c0c0"/>
<rect x="935" y="642" width="1" height="7" fill="#c0c0c0"/>
<rect x="943" y="642" width="1" height="7" fill="#c0c0c0"/>
<rect x="951" y="642" width="1" height="7" fill="#c0c0c0"/>
<rect x="959" y="644" width="1" height="5" fill="#c0c0c0"/>
<rect x="967" y="647" width="1" height="2" fill="#c0c0c0"/>
<rect x="975" y="648" width="1" height="7" fill="#c0c0c0"/>
<rect x="983" y="648" width="1" height="11" fill="#c0c0c0"/>
<rect x="991" y="648" width="1" height="13" fill="#c0c0c0"/>
<rect x="999" y="648" width="1" height="15" fill="#c0c0c0"/>
<rect x="1007" y="648" width="1" height="21" fill="#c0c0c0"/>
<rect x="1015" y="648" width="1" height="25" fill="#c0c0c0"/>
<rect x="1023" y="648" width="1" height="32" fill="#c0c0c0"/>
<rect x="1031" y="648" width="1" height="37" fill="#c0c0c0"/>
<rect x="1039" y="648" width="1" height="49" fill="#c0c0c0"/>
<rect x="1047" y="648" width="1" height="58" fill="#c0c0c0"/>
<rect x="1055" y="648" width="1" height="74" fill="#c0c0c0"/>
<rect x="1063" y="648" width="1" height="86" fill="#c0c0c0"/>
<rect x="1071" y="648" width="1" height="96" fill="#c0c0c0"/>
<rect x="1079" y="648" width="1" height="102" fill="#c0c0c0"/>
<rect x="1087" y="648" width="1" height="108" fill="#c0c0c0"/>
<rect x="1095" y="648" width="1" height="109" fill="#c0c0c0"/>
<rect x="1103" y="648" width="1" height="108" fill="#c0c0c0"/>
<rect x="1111" y="648" width="1" height="106" fill="#c0c0c0"/>
<rect x="1119" y="648" width="1" height="103" fill="#c0c0c0"/>
<rect x="1127" y="648" width="1" height="102" fill="#c0c0c0"/>
<rect x="1135" y="648" width="1" height="100" fill="#c0c0c0"/>
<rect x="1143" y="648" width="1" height="101" fill="#c0c0c0"/>
<rect x="1151" y="648" width="1" height="104" fill="#c0c0c0"/>
<rect x="1159" y="648" width="1" height="107" fill="#c0c0c0"/>
<rect x="1167" y="648" width="1" height="106" fill="#c0c0c0"/>
<rect x="1175" y="648" width="1" height="105" fill="#c0c0c0"/>
<rect x="1183" y="648" width="1" height="104" fill="#c0c0c0"/>
<rect x="1191" y="648" width="1" height="99" fill="#c0c0c0"/>
<rect x="1199" y="648" width="1" height="91" fill="#c0c0c0"/>
<rect x="1207" y="648" width="1" height="84" fill="#c0c0c0"/>
<rect x="1215" y="648" width="1" height="71" fill="#c0c0c0"/>
<rect x="1223" y="648" width="1" height="59" fill="#c0c0c0"/>
<rect x="1231" y="648" width="1" height="49" fill="#c0c0c0"/>
<rect x="1239" y="648" width="1" height="41" fill="#c0c0c0"/>
<rect x="1247" y="648" width="1" height="34" fill="#c0c0c0"/>
<rect x="1255" y="648" width="1" height="27" fill="#c0c0c0"/>
<rect x="1263" y="648" width="1" height="26" fill="#c0c0c0"/>
<rect x="1271" y="648" width="1" height="24" fill="#c0c0c0"/>
<rect x="1279" y="648" width="1" height="21" fill="#c0c0c0"/>
<rect x="1287" y="648" width="1" height="18" fill="#c0c0c0"/>
<rect x="1295" y="648" width="1" height="25" fill="#c0c0c0"/>
<rect x="1303" y="648" width="1" height="26" fill="#c0c0c0"/>
<rect x="1311" y="648" width="1" height="27" fill="#c0c0c0"/>
<rect x="1319" y="648" width="1" height="28" fill="#c0c0c0"/>
<rect x="1327" y="648" width="1" height="29" fill="#c0c0c0"/>
<rect x="1335" y="648" width="1" height="30" fill="#c0c0c0"/>
<rect x="1343" y="648" width="1" height="31" fill="#c0c0c0"/>
<rect x="1351" y="648" width="1" height="30" fill="#c0c0c0"/>
<rect x="1359" y="648" width="1" height="26" fill="#c0c0c0"/>
<rect x="1367" y="648" width="1" height="25" fill="#c0c0c0"/>
</g>
<polyline points="0,641.5 7.5,644.7 15.5,648.6 23.5,650.8 31.5,654.2 39.5,655.4 47.5,656.5 55.5,656.9 63.5,658.2 71.5,658.6 79.5,660.7 87.5,662.7 95.5,664.9 103.5,667.7 111.5,671.8 119.5,677.2 127.5,683.4 135.5,688.5 143.5,693.7 151.5,698.8 159.5,703.8 167.5,708.2 175.5,712.1 183.5,714.5 191.5,715.9 199.5,717.0 207.5,718.0 215.5,718.3 223.5,718.0 231.5,717.6 239.5,717.2 247.5,716.7 255.5,716.7 263.5,716.8 271.5,716.7 279.5,716.4 287.5,715.9 295.5,715.6 303.5,714.8 311.5,713.8 319.5,713.1 327.5,712.1 335.5,711.0 343.5,709.9 351.5,708.9 359.5,708.1 367.5,707.6 375.5,707.5 383.5,707.7 391.5,707.9 399.5,707.7 407.5,707.1 415.5,706.1 423.5,704.7 431.5,702.0 439.5,698.0 447.5,693.0 455.5,687.1 463.5,681.0 471.5,675.5 479.5,670.7 487.5,666.2 495.5,662.2 503.5,659.5 511.5,657.6 519.5,656.8 527.5,656.5 535.5,656.0 543.5,654.1 551.5,650.8 559.5,646.4 567.5,640.9 575.5,634.7 583.5,628.3 591.5,621.6 599.5,615.2 607.5,609.5 615.5,605.3 623.5,602.6 631.5,601.4 639.5,600.9 647.5,600.9 655.5,601.4 663.5,602.4 671.5,602.8 679.5,602.5 687.5,601.8 695.5,600.6 703.5,599.2 711.5,598.1 719.5,597.5 727.5,597.0 735.5,597.5 743.5,599.4 751.5,602.6 759.5,606.7 767.5,611.5 775.5,616.6 783.5,621.4 791.5,626.1 799.5,630.3 807.5,633.5 815.5,635.9 823.5,637.3 831.5,637.9 839.5,637.9 847.5,637.5 855.5,637.3 863.5,637.2 871.5,637.5 879.5,637.5 887.5,637.2 895.5,637.1 903.5,637.5 911.5,638.2 919.5,639.0 927.5,639.5 935.5,640.0 943.5,640.2 951.5,640.7 959.5,641.8 967.5,643.1 975.5,644.6 983.5,646.4 991.5,648.2 999.5,650.5 1007.5,653.4 1015.5,656.8 1023.5,660.9 1031.5,665.3 1039.5,670.8 1047.5,676.5 1055.5,683.5 1063.5,691.6 1071.5,700.6 1079.5,709.6 1087.5,718.8 1095.5,727.4 1103.5,735.2 1111.5,741.5 1119.5,746.5 1127.5,749.7 1135.5,751.2 1143.5,751.8 1151.5,752.0 1159.5,751.9 1167.5,751.5 1175.5,751.3 1183.5,751.1 1191.5,750.7 1199.5,749.5 1207.5,747.7 1215.5,744.4 1223.5,739.4 1231.5,733.0 1239.5,725.8 1247.5,717.8 1255.5,709.2 1263.5,701.1 1271.5,693.6 1279.5,686.6 1287.5,680.7 1295.5,676.8 1303.5,674.3 1311.5,672.8 1319.5,672.1 1327.5,672.3 1335.5,672.7 1343.5,673.5 1351.5,674.5 1359.5,675.4 1367.5,675.5" fill="none" stroke="#ff0000" stroke-width="1" stroke-dasharray="3 3" shape-rendering="crispEdges"/>
<text x="1630.2" y="594" font-size="10.0" fill="#000" textLength="23.2" lengthAdjust="spacingAndGlyphs" text-anchor="start" stroke="#000" stroke-width="0.2">391.2</text>
<text x="1630.2" y="652" font-size="10.0" fill="#000" textLength="18.1" lengthAdjust="spacingAndGlyphs" text-anchor="start" stroke="#000" stroke-width="0.2">0.00</text>
<text x="1630.2" y="763" font-size="10.0" fill="#000" textLength="31.7" lengthAdjust="spacingAndGlyphs" text-anchor="start" stroke="#000" stroke-width="0.2">-722.96</text>
<text x="3" y="781" font-size="10.0" fill="#000" textLength="68.0" lengthAdjust="spacingAndGlyphs" text-anchor="start" stroke="#000" stroke-width="0.2">RSI(14) 43.9686</text>
<line x1="0" y1="801.5" x2="1627" y2="801.5" stroke="#c0c0c0" stroke-width="1" stroke-dasharray="3 3" shape-rendering="crispEdges"/>
<rect x="1627" y="801" width="1" height="1" fill="#d8d8d8"/>
<text x="1630.2" y="805" font-size="10.0" fill="#000" textLength="10.2" lengthAdjust="spacingAndGlyphs" text-anchor="start" stroke="#000" stroke-width="0.2">80</text>
<line x1="0" y1="848.5" x2="1627" y2="848.5" stroke="#c0c0c0" stroke-width="1" stroke-dasharray="3 3" shape-rendering="crispEdges"/>
<rect x="1627" y="848" width="1" height="1" fill="#d8d8d8"/>
<text x="1630.2" y="852" font-size="10.0" fill="#000" textLength="10.2" lengthAdjust="spacingAndGlyphs" text-anchor="start" stroke="#000" stroke-width="0.2">50</text>
<line x1="0" y1="904.5" x2="1627" y2="904.5" stroke="#c0c0c0" stroke-width="1" stroke-dasharray="3 3" shape-rendering="crispEdges"/>
<rect x="1627" y="904" width="1" height="1" fill="#d8d8d8"/>
<text x="1630.2" y="908" font-size="10.0" fill="#000" textLength="10.2" lengthAdjust="spacingAndGlyphs" text-anchor="start" stroke="#000" stroke-width="0.2">15</text>
<text x="1630.2" y="779" font-size="10.0" fill="#000" textLength="15.3" lengthAdjust="spacingAndGlyphs" text-anchor="start" stroke="#000" stroke-width="0.2">100</text>
<text x="1630.2" y="925" font-size="10.0" fill="#000" textLength="5.1" lengthAdjust="spacingAndGlyphs" text-anchor="start" stroke="#000" stroke-width="0.2">0</text>
<polyline points="0,852.5 7.5,850.7 15.5,859.0 23.5,861.5 31.5,851.5 39.5,850.2 47.5,849.0 55.5,839.0 63.5,877.1 71.5,870.1 79.5,868.0 87.5,864.2 95.5,869.5 103.5,872.6 111.5,885.1 119.5,887.6 127.5,878.8 135.5,874.6 143.5,883.2 151.5,883.2 159.5,875.0 167.5,875.0 175.5,873.5 183.5,873.5 191.5,880.0 199.5,881.9 207.5,883.6 215.5,884.3 223.5,878.3 231.5,882.6 239.5,877.9 247.5,878.4 255.5,886.2 263.5,887.9 271.5,884.5 279.5,882.5 287.5,886.0 295.5,883.1 303.5,872.4 311.5,874.3 319.5,881.1 327.5,882.1 335.5,885.3 343.5,885.9 351.5,886.0 359.5,891.8 367.5,893.1 375.5,887.9 383.5,889.9 391.5,891.1 399.5,873.1 407.5,873.6 415.5,871.8 423.5,870.0 431.5,836.9 439.5,835.3 447.5,826.5 455.5,827.4 463.5,849.6 471.5,855.2 479.5,861.3 487.5,852.3 495.5,856.2 503.5,856.2 511.5,848.3 519.5,851.5 527.5,843.0 535.5,839.1 543.5,820.7 551.5,819.1 559.5,813.6 567.5,811.7 575.5,816.4 583.5,816.4 591.5,815.1 599.5,818.5 607.5,832.5 615.5,833.5 623.5,833.4 631.5,834.2 639.5,820.9 647.5,820.0 655.5,828.3 663.5,825.6 671.5,812.5 679.5,817.4 687.5,820.0 695.5,818.7 703.5,820.0 711.5,824.1 719.5,822.8 727.5,829.5 735.5,852.6 743.5,850.4 751.5,859.7 759.5,860.6 767.5,855.1 775.5,855.6 783.5,840.1 791.5,844.8 799.5,840.1 807.5,841.7 815.5,840.6 823.5,843.1 831.5,840.0 839.5,838.3 847.5,843.8 855.5,839.8 863.5,848.3 871.5,850.9 879.5,832.6 887.5,832.6 895.5,847.2 903.5,854.9 911.5,853.7 919.5,850.0 927.5,837.7 935.5,848.0 943.5,845.2 951.5,845.7 959.5,853.6 967.5,857.4 975.5,869.7 983.5,864.7 991.5,861.9 999.5,862.8 1007.5,874.8 1015.5,875.0 1023.5,881.6 1031.5,883.7 1039.5,895.5 1047.5,895.8 1055.5,904.1 1063.5,904.8 1071.5,905.8 1079.5,903.2 1087.5,904.9 1095.5,896.6 1103.5,889.6 1111.5,890.5 1119.5,891.2 1127.5,893.1 1135.5,893.5 1143.5,898.5 1151.5,902.2 1159.5,903.1 1167.5,896.1 1175.5,897.9 1183.5,898.4 1191.5,882.4 1199.5,871.8 1207.5,870.8 1215.5,849.7 1223.5,847.3 1231.5,846.5 1239.5,846.5 1247.5,847.8 1255.5,845.6 1263.5,857.5 1271.5,857.7 1279.5,850.9 1287.5,849.9 1295.5,875.2 1303.5,862.7 1311.5,862.4 1319.5,863.0 1327.5,865.5 1335.5,866.5 1343.5,869.7 1351.5,859.1 1359.5,853.0 1367.5,858.5" fill="none" stroke="#1e90ff" stroke-width="1" shape-rendering="crispEdges"/>
<rect x="-1" y="929" width="1" height="3" fill="#000"/>
<text x="-1.6" y="941" font-size="10.0" fill="#000" textLength="51.5" lengthAdjust="spacingAndGlyphs" text-anchor="start" stroke="#000" stroke-width="0.2">29 Apr 2019</text>
<rect x="63" y="929" width="1" height="3" fill="#000"/>
<text x="62.4" y="941" font-size="10.0" fill="#000" textLength="52.4" lengthAdjust="spacingAndGlyphs" text-anchor="start" stroke="#000" stroke-width="0.2">6 May 01:15</text>
<rect x="127" y="929" width="1" height="3" fill="#000"/>
<text x="126.4" y="941" font-size="10.0" fill="#000" textLength="57.6" lengthAdjust="spacingAndGlyphs" text-anchor="start" stroke="#000" stroke-width="0.2">10 May 01:15</text>
<rect x="191" y="929" width="1" height="3" fill="#000"/>
<text x="190.4" y="941" font-size="10.0" fill="#000" textLength="57.6" lengthAdjust="spacingAndGlyphs" text-anchor="start" stroke="#000" stroke-width="0.2">17 May 01:15</text>
<rect x="255" y="929" width="1" height="3" fill="#000"/>
<text x="254.4" y="941" font-size="10.0" fill="#000" textLength="57.6" lengthAdjust="spacingAndGlyphs" text-anchor="start" stroke="#000" stroke-width="0.2">23 May 01:15</text>
<rect x="319" y="929" width="1" height="3" fill="#000"/>
<text x="318.4" y="941" font-size="10.0" fill="#000" textLength="57.6" lengthAdjust="spacingAndGlyphs" text-anchor="start" stroke="#000" stroke-width="0.2">29 May 01:15</text>
<rect x="383" y="929" width="1" height="3" fill="#000"/>
<text x="382.4" y="941" font-size="10.0" fill="#000" textLength="49.9" lengthAdjust="spacingAndGlyphs" text-anchor="start" stroke="#000" stroke-width="0.2">4 Jun 01:15</text>
<rect x="447" y="929" width="1" height="3" fill="#000"/>
<text x="446.4" y="941" font-size="10.0" fill="#000" textLength="55.1" lengthAdjust="spacingAndGlyphs" text-anchor="start" stroke="#000" stroke-width="0.2">11 Jun 01:15</text>
<rect x="511" y="929" width="1" height="3" fill="#000"/>
<text x="510.4" y="941" font-size="10.0" fill="#000" textLength="55.1" lengthAdjust="spacingAndGlyphs" text-anchor="start" stroke="#000" stroke-width="0.2">17 Jun 01:15</text>
<rect x="575" y="929" width="1" height="3" fill="#000"/>
<text x="574.4" y="941" font-size="10.0" fill="#000" textLength="55.1" lengthAdjust="spacingAndGlyphs" text-anchor="start" stroke="#000" stroke-width="0.2">21 Jun 01:15</text>
<rect x="639" y="929" width="1" height="3" fill="#000"/>
<text x="638.4" y="941" font-size="10.0" fill="#000" textLength="55.1" lengthAdjust="spacingAndGlyphs" text-anchor="start" stroke="#000" stroke-width="0.2">27 Jun 01:15</text>
<rect x="703" y="929" width="1" height="3" fill="#000"/>
<text x="702.4" y="941" font-size="10.0" fill="#000" textLength="46.8" lengthAdjust="spacingAndGlyphs" text-anchor="start" stroke="#000" stroke-width="0.2">4 Jul 01:15</text>
<rect x="767" y="929" width="1" height="3" fill="#000"/>
<text x="766.4" y="941" font-size="10.0" fill="#000" textLength="52.0" lengthAdjust="spacingAndGlyphs" text-anchor="start" stroke="#000" stroke-width="0.2">10 Jul 01:15</text>
<rect x="831" y="929" width="1" height="3" fill="#000"/>
<text x="830.4" y="941" font-size="10.0" fill="#000" textLength="52.0" lengthAdjust="spacingAndGlyphs" text-anchor="start" stroke="#000" stroke-width="0.2">16 Jul 01:15</text>
<rect x="895" y="929" width="1" height="3" fill="#000"/>
<text x="894.4" y="941" font-size="10.0" fill="#000" textLength="52.0" lengthAdjust="spacingAndGlyphs" text-anchor="start" stroke="#000" stroke-width="0.2">22 Jul 01:15</text>
<rect x="959" y="929" width="1" height="3" fill="#000"/>
<text x="958.4" y="941" font-size="10.0" fill="#000" textLength="52.0" lengthAdjust="spacingAndGlyphs" text-anchor="start" stroke="#000" stroke-width="0.2">26 Jul 01:15</text>
<rect x="1023" y="929" width="1" height="3" fill="#000"/>
<text x="1022.4" y="941" font-size="10.0" fill="#000" textLength="51.6" lengthAdjust="spacingAndGlyphs" text-anchor="start" stroke="#000" stroke-width="0.2">1 Aug 01:15</text>
<rect x="1087" y="929" width="1" height="3" fill="#000"/>
<text x="1086.4" y="941" font-size="10.0" fill="#000" textLength="51.6" lengthAdjust="spacingAndGlyphs" text-anchor="start" stroke="#000" stroke-width="0.2">7 Aug 01:15</text>
<rect x="1151" y="929" width="1" height="3" fill="#000"/>
<text x="1150.4" y="941" font-size="10.0" fill="#000" textLength="56.8" lengthAdjust="spacingAndGlyphs" text-anchor="start" stroke="#000" stroke-width="0.2">13 Aug 01:15</text>
<rect x="1215" y="929" width="1" height="3" fill="#000"/>
<text x="1214.4" y="941" font-size="10.0" fill="#000" textLength="56.8" lengthAdjust="spacingAndGlyphs" text-anchor="start" stroke="#000" stroke-width="0.2">19 Aug 01:15</text>
<rect x="1279" y="929" width="1" height="3" fill="#000"/>
<text x="1278.4" y="941" font-size="10.0" fill="#000" textLength="56.8" lengthAdjust="spacingAndGlyphs" text-anchor="start" stroke="#000" stroke-width="0.2">23 Aug 01:15</text>
<rect x="1343" y="929" width="1" height="3" fill="#000"/>
<text x="1342.4" y="941" font-size="10.0" fill="#000" textLength="56.8" lengthAdjust="spacingAndGlyphs" text-anchor="start" stroke="#000" stroke-width="0.2">29 Aug 01:15</text>
<defs><linearGradient id="rg" x1="0" y1="48" x2="0" y2="112" gradientUnits="userSpaceOnUse"><stop offset="0" stop-color="#fb5252"/><stop offset="0.36" stop-color="#e23232"/><stop offset="1" stop-color="#b00000"/></linearGradient></defs>
<g id="oneclick">
<rect x="2" y="47" width="220" height="65" fill="#fff"/>
<path d="M2 48 H54 V72 H111 V112 H2Z" fill="url(#rg)"/>
<path d="M2.5 112 V48.5 H53.5" fill="none" stroke="#c80000" stroke-width="1"/>
<rect x="6" y="71" width="44" height="1" fill="#8a0000"/><rect x="6" y="72" width="44" height="1" fill="#f86060"/>
<path d="M169 48 H221 V112 H113 V72 H169Z" fill="url(#rg)"/>
<path d="M169.5 72 V48.5 H220.5 V112" fill="none" stroke="#c80000" stroke-width="1"/>
<rect x="173" y="71" width="44" height="1" fill="#8a0000"/><rect x="173" y="72" width="44" height="1" fill="#f86060"/>
<rect x="56.5" y="48.5" width="110" height="21" fill="#fff" stroke="#a4a8b0"/>
<rect x="57" y="49" width="20" height="20" fill="#e9e9e9"/><rect x="77" y="49" width="1" height="20" fill="#a4a8b0"/>
<rect x="146" y="49" width="20" height="20" fill="#e9e9e9"/><rect x="145" y="49" width="1" height="20" fill="#a4a8b0"/>
<path d="M64 57 H70 L67 60Z" fill="#000"/><path d="M153 60 H159 L156 57Z" fill="#000"/>
<text x="142" y="63" font-size="12" fill="#000" text-anchor="end" textLength="23" lengthAdjust="spacingAndGlyphs">1.00</text>
<text x="14.5" y="64" font-size="12" fill="#fff" textLength="25.5" lengthAdjust="spacingAndGlyphs">SELL</text>
<text x="182.5" y="64" font-size="12" fill="#fff" textLength="23.5" lengthAdjust="spacingAndGlyphs">BUY</text>
<text x="18" y="103" font-size="12.6" font-weight="700" fill="#fff" textLength="35" lengthAdjust="spacingAndGlyphs">25630</text>
<text x="128" y="103" font-size="12.6" font-weight="700" fill="#fff" textLength="35" lengthAdjust="spacingAndGlyphs">25643</text>
<text x="56" y="103" font-size="33" fill="#fff" textLength="25" lengthAdjust="spacingAndGlyphs">.0</text>
<text x="167" y="103" font-size="33" fill="#fff" textLength="25" lengthAdjust="spacingAndGlyphs">.0</text>
</g>
<g id="toolbar">
<rect x="0" y="0" width="1675" height="24" fill="#f0f0f0"/>
<rect x="0" y="24" width="1673" height="1" fill="#a8a8a8"/>
<rect x="0" y="25" width="1673" height="1" fill="#696969"/>
<rect x="1673" y="26" width="1" height="923" fill="#e3e3e3"/><rect x="1674" y="24" width="1" height="926" fill="#fbfbfb"/>
<rect x="0" y="948" width="1674" height="1" fill="#e3e3e3"/><rect x="0" y="949" width="1675" height="1" fill="#fbfbfb"/>
<rect x="224" y="0" width="1" height="24" fill="#a0a0a0"/><rect x="225" y="0" width="1" height="24" fill="#fff"/>
<rect x="228" y="2" width="3" height="1" fill="#a0a0a0"/>
<rect x="228" y="4" width="3" height="1" fill="#a0a0a0"/>
<rect x="228" y="6" width="3" height="1" fill="#a0a0a0"/>
<rect x="228" y="8" width="3" height="1" fill="#a0a0a0"/>
<rect x="228" y="10" width="3" height="1" fill="#a0a0a0"/>
<rect x="228" y="12" width="3" height="1" fill="#a0a0a0"/>
<rect x="228" y="14" width="3" height="1" fill="#a0a0a0"/>
<rect x="228" y="16" width="3" height="1" fill="#a0a0a0"/>
<rect x="228" y="18" width="3" height="1" fill="#a0a0a0"/>
<rect x="228" y="20" width="3" height="1" fill="#a0a0a0"/>
<rect x="592" y="0" width="1" height="24" fill="#a0a0a0"/><rect x="593" y="0" width="1" height="24" fill="#fff"/>
<rect x="596" y="2" width="3" height="1" fill="#a0a0a0"/>
<rect x="596" y="4" width="3" height="1" fill="#a0a0a0"/>
<rect x="596" y="6" width="3" height="1" fill="#a0a0a0"/>
<rect x="596" y="8" width="3" height="1" fill="#a0a0a0"/>
<rect x="596" y="10" width="3" height="1" fill="#a0a0a0"/>
<rect x="596" y="12" width="3" height="1" fill="#a0a0a0"/>
<rect x="596" y="14" width="3" height="1" fill="#a0a0a0"/>
<rect x="596" y="16" width="3" height="1" fill="#a0a0a0"/>
<rect x="596" y="18" width="3" height="1" fill="#a0a0a0"/>
<rect x="596" y="20" width="3" height="1" fill="#a0a0a0"/>
<rect x="898" y="0" width="1" height="24" fill="#a0a0a0"/><rect x="899" y="0" width="1" height="24" fill="#fff"/>
<rect x="902" y="2" width="3" height="1" fill="#a0a0a0"/>
<rect x="902" y="4" width="3" height="1" fill="#a0a0a0"/>
<rect x="902" y="6" width="3" height="1" fill="#a0a0a0"/>
<rect x="902" y="8" width="3" height="1" fill="#a0a0a0"/>
<rect x="902" y="10" width="3" height="1" fill="#a0a0a0"/>
<rect x="902" y="12" width="3" height="1" fill="#a0a0a0"/>
<rect x="902" y="14" width="3" height="1" fill="#a0a0a0"/>
<rect x="902" y="16" width="3" height="1" fill="#a0a0a0"/>
<rect x="902" y="18" width="3" height="1" fill="#a0a0a0"/>
<rect x="902" y="20" width="3" height="1" fill="#a0a0a0"/>
<rect x="1159" y="0" width="1" height="24" fill="#a0a0a0"/><rect x="1160" y="0" width="1" height="24" fill="#fff"/>
<rect x="319" y="1" width="1" height="21" fill="#a0a0a0"/>
<rect x="409" y="1" width="1" height="21" fill="#a0a0a0"/>
<rect x="471" y="1" width="1" height="21" fill="#a0a0a0"/>
<rect x="659" y="1" width="1" height="21" fill="#a0a0a0"/>
<rect x="262" y="0" width="25" height="22" fill="#f8f8f8"/>
<rect x="262" y="0" width="25" height="1" fill="#a0a0a0"/><rect x="262" y="0" width="1" height="22" fill="#a0a0a0"/>
<rect x="286" y="1" width="1" height="21" fill="#fff"/><rect x="263" y="21" width="24" height="1" fill="#fff"/>
<rect x="414" y="0" width="25" height="22" fill="#f8f8f8"/>
<rect x="414" y="0" width="25" height="1" fill="#a0a0a0"/><rect x="414" y="0" width="1" height="22" fill="#a0a0a0"/>
<rect x="438" y="1" width="1" height="21" fill="#fff"/><rect x="415" y="21" width="24" height="1" fill="#fff"/>
<rect x="442" y="0" width="25" height="22" fill="#f8f8f8"/>
<rect x="442" y="0" width="25" height="1" fill="#a0a0a0"/><rect x="442" y="0" width="1" height="22" fill="#a0a0a0"/>
<rect x="466" y="1" width="1" height="21" fill="#fff"/><rect x="443" y="21" width="24" height="1" fill="#fff"/>
<rect x="602" y="0" width="25" height="22" fill="#f8f8f8"/>
<rect x="602" y="0" width="25" height="1" fill="#a0a0a0"/><rect x="602" y="0" width="1" height="22" fill="#a0a0a0"/>
<rect x="626" y="1" width="1" height="21" fill="#fff"/><rect x="603" y="21" width="24" height="1" fill="#fff"/>
<rect x="1048" y="0" width="25" height="22" fill="#f8f8f8"/>
<rect x="1048" y="0" width="25" height="1" fill="#a0a0a0"/><rect x="1048" y="0" width="1" height="22" fill="#a0a0a0"/>
<rect x="1072" y="1" width="1" height="21" fill="#fff"/><rect x="1049" y="21" width="24" height="1" fill="#fff"/>
<path d="M502.5 11 L508.5 11 L505.5 14Z" fill="#000"/>
<path d="M541.5 11 L547.5 11 L544.5 14Z" fill="#000"/>
<path d="M580.5 11 L586.5 11 L583.5 14Z" fill="#000"/>
<path d="M886.5 11 L892.5 11 L889.5 14Z" fill="#000"/>
<path d="M-0.5 4.5 H6.5 L9.5 7.5 V17.5 H-0.5Z" fill="#fcfcfc" stroke="#9a9a9a"/><path d="M6.5 4.5 V7.5 H9.5" fill="none" stroke="#9a9a9a" stroke-width="0.8"/>
<rect x="0" y="6" width="3" height="1.4" fill="#a8a8a8"/><rect x="0" y="9" width="6" height="1" fill="#b0b0b0"/><rect x="0" y="11.5" width="4" height="1" fill="#b0b0b0"/><rect x="0" y="14" width="3" height="1" fill="#b0b0b0"/>
<path d="M6 10.3 H10 V14 H13.7 V18 H10 V21.7 H6 V18 H2.3 V14 H6Z" fill="#1fd81f" stroke="#0d9a0d" stroke-width="1"/><path d="M7 11.3 H9 V15 H12.7 V16.4 H3.3 V15 H7Z" fill="#5cf05c" opacity="0.8"/>
<text x="17" y="16" font-size="12" fill="#000" stroke="#000" stroke-width="0.2" style="font-family:'Liberation Sans','Noto Sans CJK SC',sans-serif">新订单</text>
<defs><linearGradient id="gb" x1="0" y1="0" x2="1" y2="1"><stop offset="0" stop-color="#d8980c"/><stop offset="0.55" stop-color="#f8dc40"/><stop offset="1" stop-color="#e0a818"/></linearGradient><linearGradient id="cl" x1="0" y1="0" x2="0" y2="1"><stop offset="0" stop-color="#ffffff"/><stop offset="1" stop-color="#c4d0e6"/></linearGradient></defs>
<path d="M70.6 5 L80.8 12.8 L73 20.2 L65 14.4 Q69 10.5 69.6 6.2 Z" fill="#a9650c"/>
<path d="M71.2 6.6 L79.2 12.8 L73.3 17.2 L67.2 13.4 Q70 10.6 70.6 7.2 Z" fill="url(#gb)"/>
<path d="M66.6 14.3 L72.9 18.6" stroke="#f4d878" stroke-width="1.1" fill="none"/>
<path d="M74 18.8 L79.6 14.2" stroke="#d8d098" stroke-width="0.9" fill="none"/>
<path d="M95.2 5.4 L98.6 4.3 L105.8 6.2 V13.5 H95.2Z" fill="#0c8cf2"/>
<path d="M98.8 7.2 L105.8 6.2 V13.5 H98.8Z" fill="#3db6ff"/>
<path d="M95.2 5.4 L98.8 7.2 V13.5" fill="none" stroke="#bfe6ff" stroke-width="0.7"/>
<rect x="100.3" y="8.4" width="4.5" height="1.3" fill="#e8f6ff"/>
<path d="M96.2 19.3 A2.9 2.9 0 0 1 96 13.8 A2.6 2.6 0 0 1 99.3 13.1 A3 3 0 0 1 104 13.3 A2.6 2.6 0 0 1 107.3 14.6 A2.5 2.5 0 0 1 106.6 19.3Z" fill="url(#cl)" stroke="#3f5e9c" stroke-width="0.9"/>
<defs><linearGradient id="rgn" x1="0" y1="0" x2="1" y2="1"><stop offset="0" stop-color="#e4f0dc"/><stop offset="1" stop-color="#2f9a3a"/></linearGradient></defs>
<path d="M129.3 12 L129.3 19.9 A7.9 7.9 0 0 0 136.6 9 Z" fill="#58ae58" opacity="0.6"/><path d="M131 13.5 L131 19.6 A7.9 7.9 0 0 0 136.2 14 Z" fill="#2f9a3a" opacity="0.55"/>
<circle cx="129" cy="12" r="7.5" fill="none" stroke="#5a84dc" stroke-width="0.9" opacity="0.75"/>
<circle cx="129" cy="12" r="4.6" fill="none" stroke="#4a74d4" stroke-width="1" opacity="0.8"/>
<circle cx="129" cy="11.9" r="1.9" fill="#2a5ad0"/>
<rect x="128.9" y="12.2" width="1.3" height="7.6" fill="#22a022"/>
<path d="M148.2 10.8 L163.6 10.3 L156 19.8 Z" fill="#f6d640" stroke="#c8960c" stroke-width="0.7" stroke-linejoin="round"/>
<path d="M150 11.5 L157 11.3 L155.5 17.5Z" fill="#fbe98a" opacity="0.8"/>
<ellipse cx="155.9" cy="8.7" rx="7.9" ry="2.5" fill="#5eb2ea" stroke="#2a82b4" stroke-width="0.8" transform="rotate(-3 155.9 8.7)"/>
<ellipse cx="155.6" cy="6.6" rx="3.7" ry="2.7" fill="#7cc4f2" stroke="#2a82b4" stroke-width="0.7"/>
<circle cx="160.4" cy="15.8" r="4.1" fill="#d82008"/><circle cx="160.6" cy="16.2" r="3" fill="#f03010"/>
<rect x="159" y="14.4" width="2.9" height="2.9" fill="#fff"/>
<text x="168" y="16" font-size="12" fill="#000" stroke="#000" stroke-width="0.2" style="font-family:'Liberation Sans','Noto Sans CJK SC',sans-serif">自动交易</text>
<rect x="242" y="7" width="1" height="13" fill="#505050"/><rect x="240" y="17" width="12" height="1" fill="#505050"/>
<path d="M240.5 8.5 L242.5 5.5 L244.5 8.5Z" fill="#505050"/><path d="M251.5 15.5 L254.5 17.5 L251.5 19.5Z" fill="#505050"/>
<rect x="248" y="7" width="1.5" height="9" fill="#108a10"/><rect x="249" y="8" width="2.5" height="1.2" fill="#108a10"/><rect x="246" y="14" width="2.5" height="1.2" fill="#108a10"/>
<rect x="270" y="7" width="1" height="13" fill="#505050"/><rect x="268" y="17" width="12" height="1" fill="#505050"/>
<path d="M268.5 8.5 L270.5 5.5 L272.5 8.5Z" fill="#505050"/><path d="M279.5 15.5 L282.5 17.5 L279.5 19.5Z" fill="#505050"/>
<rect x="276" y="4" width="1.4" height="12" fill="#108a10"/><rect x="274.5" y="6.5" width="4.5" height="7" fill="#44e044" stroke="#108a10" stroke-width="1"/>
<rect x="298" y="7" width="1" height="13" fill="#505050"/><rect x="296" y="17" width="12" height="1" fill="#505050"/>
<path d="M296.5 8.5 L298.5 5.5 L300.5 8.5Z" fill="#505050"/><path d="M307.5 15.5 L310.5 17.5 L307.5 19.5Z" fill="#505050"/>
<path d="M297.5 14.5 C300 13 301 9.5 303.5 9.5 C305.5 9.5 306 12.5 308.5 13" fill="none" stroke="#2a9a2a" stroke-width="1.3"/>
<path d="M338 13.5 L343.3 18.8" stroke="#c8a020" stroke-width="3" stroke-linecap="round"/>
<path d="M338.5 13.5 L343.3 18.4" stroke="#f0d860" stroke-width="1.2" stroke-linecap="round"/>
<circle cx="334" cy="9.6" r="5.2" fill="#d8ecfc" stroke="#3a80cc" stroke-width="1.4"/>
<rect x="331" y="8.8" width="6" height="1.8" fill="#3a78c0"/>
<rect x="333.1" y="6.6" width="1.8" height="6" fill="#3a78c0"/>
<path d="M366 13.5 L371.3 18.8" stroke="#c8a020" stroke-width="3" stroke-linecap="round"/>
<path d="M366.5 13.5 L371.3 18.4" stroke="#f0d860" stroke-width="1.2" stroke-linecap="round"/>
<circle cx="362" cy="9.6" r="5.2" fill="#d8ecfc" stroke="#3a80cc" stroke-width="1.4"/>
<rect x="359" y="8.8" width="6" height="1.8" fill="#3a78c0"/>
<rect x="384" y="4" width="8" height="7.5" fill="#4aa818"/>
<rect x="385.5" y="7" width="5" height="3.5" fill="#fff" opacity="0.92"/><rect x="386.5" y="8.2" width="3" height="1" fill="#7ed040"/>
<rect x="392.5" y="4" width="8" height="7.5" fill="#1848c8"/>
<rect x="394.0" y="7" width="5" height="3.5" fill="#fff" opacity="0.92"/><rect x="395.0" y="8.2" width="3" height="1" fill="#4a88f0"/>
<rect x="384" y="12" width="8" height="7.5" fill="#1848c8"/>
<rect x="385.5" y="15" width="5" height="3.5" fill="#fff" opacity="0.92"/><rect x="386.5" y="16.2" width="3" height="1" fill="#4a88f0"/>
<rect x="392.5" y="12" width="8" height="7.5" fill="#4aa818"/>
<rect x="394.0" y="15" width="5" height="3.5" fill="#fff" opacity="0.92"/><rect x="395.0" y="16.2" width="3" height="1" fill="#7ed040"/>
<rect x="422" y="7" width="1" height="13" fill="#505050"/><rect x="420" y="17" width="12" height="1" fill="#505050"/>
<path d="M420.5 8.5 L422.5 5.5 L424.5 8.5Z" fill="#505050"/><path d="M431.5 15.5 L434.5 17.5 L431.5 19.5Z" fill="#505050"/>
<path d="M427 8 L431 11.5 L427 15Z" fill="#58d858" stroke="#18a018" stroke-width="1"/>
<rect x="450" y="7" width="1" height="13" fill="#505050"/><rect x="448" y="17" width="12" height="1" fill="#505050"/>
<path d="M448.5 8.5 L450.5 5.5 L452.5 8.5Z" fill="#505050"/><path d="M459.5 15.5 L462.5 17.5 L459.5 19.5Z" fill="#505050"/>
<rect x="456" y="6" width="1.2" height="10" fill="#2070a0"/><path d="M457.5 11.5 L461 9 L460 11 H462.5 V12 H460 L461 14Z" fill="#d04000"/>
<path d="M481.5 4.5 H489 L492.5 8 V17.5 H481.5Z" fill="#fff" stroke="#909090"/>
<text x="483.5" y="13" font-size="8" font-style="italic" fill="#404040">f</text>
<path d="M489 10.5 H493 V14 H497 V18 H493 V21.5 H489 V18 H485 V14 H489Z" fill="#22cc22" stroke="#0a8a0a"/>
<circle cx="527" cy="12" r="8" fill="#1a58c0"/><circle cx="527" cy="11.5" r="7" fill="#2f7ae0"/><circle cx="527" cy="12" r="5.3" fill="#f0f4fa"/>
<path d="M527 7.5 V12.5 H530.5" fill="none" stroke="#303030" stroke-width="1.2"/>
<rect x="558.5" y="5.5" width="16" height="13" fill="#fff" stroke="#3a78d0" stroke-width="1.2"/><rect x="558" y="5" width="17" height="2.5" fill="#5a98e8"/><rect x="559" y="12" width="15" height="1" fill="#3a78d0"/>
<path d="M561 10.5 L564 9.5 L566 10.5 L569 9 L572 9.5" fill="none" stroke="#b02010" stroke-width="1.1"/>
<path d="M561 16.5 L564 15.5 L566 16.5 L569 14.5 L572 16.5" fill="none" stroke="#109030" stroke-width="1.1"/>
<path d="M610.5 5 L610.5 16.5 L613.2 14 L615.3 18.8 L617 18 L615 13.4 L618.6 13.2Z" fill="#484848"/>
<rect x="642" y="5" width="1" height="15" fill="#505050"/><rect x="635" y="12" width="15" height="1" fill="#505050"/><rect x="641" y="11" width="3" height="3" fill="#f0f0f0"/><rect x="642" y="12" width="1" height="1" fill="#505050"/>
<rect x="676" y="6" width="1" height="13" fill="#505050"/>
<rect x="698" y="12" width="13" height="1" fill="#505050"/>
<path d="M727 19 L739 7" stroke="#505050" stroke-width="1.2"/>
<path d="M753 16 L765 6 M755 19 L767 9 M757 12 V19 M760 9.5 V17 M763 7 V14" stroke="#505050" stroke-width="1" fill="none"/>
<text x="764" y="21" font-size="7.2" font-weight="700" fill="#303030">E</text>
<line x1="782" y1="5.5" x2="796" y2="5.5" stroke="#505050" stroke-width="1" stroke-dasharray="1 1"/>
<line x1="782" y1="9.5" x2="796" y2="9.5" stroke="#505050" stroke-width="1" stroke-dasharray="1 1"/>
<line x1="782" y1="13.5" x2="796" y2="13.5" stroke="#505050" stroke-width="1" stroke-dasharray="1 1"/>
<line x1="782" y1="17.5" x2="790" y2="17.5" stroke="#505050" stroke-width="1" stroke-dasharray="1 1"/>
<text x="792" y="21" font-size="7.2" font-weight="700" fill="#303030">F</text>
<text x="811.5" y="17" font-size="12.5" font-weight="700" fill="#505050">A</text>
<rect x="838.5" y="5.5" width="12" height="13" fill="none" stroke="#505050" stroke-width="1" stroke-dasharray="1 1"/>
<text x="840.5" y="17" font-size="12.5" font-weight="700" fill="#505050">T</text>
<path d="M866 9 L869 6 L872 9 L869 11Z M874 16 L877 13 L880 16 L877 19Z" fill="#404040"/><path d="M870 13 L872.5 16 L878 9" stroke="#404040" stroke-width="1.4" fill="none"/>
<text x="913.5" y="16" font-size="10" fill="#404040" stroke="#404040" stroke-width="0.25" textLength="13" lengthAdjust="spacingAndGlyphs">M1</text>
<text x="941.5" y="16" font-size="10" fill="#404040" stroke="#404040" stroke-width="0.25" textLength="13" lengthAdjust="spacingAndGlyphs">M5</text>
<text x="967.5" y="16" font-size="10" fill="#404040" stroke="#404040" stroke-width="0.25" textLength="17.5" lengthAdjust="spacingAndGlyphs">M15</text>
<text x="995.5" y="16" font-size="10" fill="#404040" stroke="#404040" stroke-width="0.25" textLength="17.5" lengthAdjust="spacingAndGlyphs">M30</text>
<text x="1026" y="16" font-size="10" fill="#404040" stroke="#404040" stroke-width="0.25" textLength="12.5" lengthAdjust="spacingAndGlyphs">H1</text>
<text x="1053.5" y="16" font-size="10" fill="#404040" stroke="#404040" stroke-width="0.25" textLength="12.5" lengthAdjust="spacingAndGlyphs">H4</text>
<text x="1082.5" y="16" font-size="10" fill="#404040" stroke="#404040" stroke-width="0.25" textLength="12" lengthAdjust="spacingAndGlyphs">D1</text>
<text x="1110" y="16" font-size="10" fill="#404040" stroke="#404040" stroke-width="0.25" textLength="14.5" lengthAdjust="spacingAndGlyphs">W1</text>
<text x="1136.5" y="16" font-size="10" fill="#404040" stroke="#404040" stroke-width="0.25" textLength="14.5" lengthAdjust="spacingAndGlyphs">MN</text>
<path d="M1625.8 12.8 L1622 16.8" stroke="#2858d0" stroke-width="2.4" stroke-linecap="round"/><circle cx="1629.5" cy="9.5" r="4" fill="#fafafa" stroke="#2858d8" stroke-width="1.3"/>
<path d="M1666 12.5 L1666 16 L1663 13Z" fill="#707070"/><ellipse cx="1662.3" cy="8.8" rx="6.5" ry="4.7" fill="#f4f4f8" stroke="#8a8a8a" stroke-width="0.9"/>
<path d="M1650.5 16 L1650.5 19 L1653 16.5Z" fill="#707070"/><ellipse cx="1653.5" cy="13.2" rx="5.2" ry="3.9" fill="#f4f4f8" stroke="#8a8a8a" stroke-width="0.9"/>
</g>
</svg>

</body></html>
